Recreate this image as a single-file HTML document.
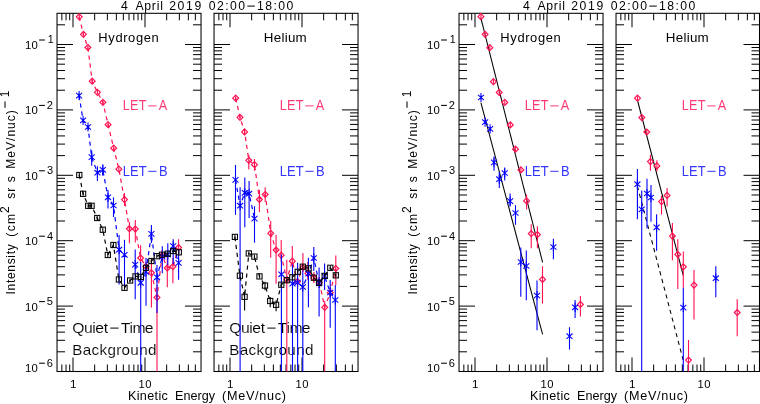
<!DOCTYPE html><html><head><meta charset="utf-8"><style>html,body{margin:0;padding:0;background:#fff;}svg{display:block;}</style></head><body><svg width="760" height="404" viewBox="0 0 760 404" style="will-change:transform"><rect x="0" y="0" width="760" height="404" fill="#fff"/>
<g font-family='"Liberation Sans", sans-serif' style="font-kerning:none">
<text transform="translate(121.02,9.50) scale(1.0,1)" font-size="12.21" letter-spacing="0.000" fill="#000">4</text>
<text transform="translate(135.38,9.50) scale(1.0,1)" font-size="12.21" letter-spacing="0.779" fill="#000">April</text>
<text transform="translate(169.19,9.50) scale(1.0,1)" font-size="12.21" letter-spacing="1.644" fill="#000">2019</text>
<text transform="translate(208.72,9.50) scale(1.0,1)" font-size="12.21" letter-spacing="1.475" fill="#000">02:00</text>
<line x1="247.30" y1="6.10" x2="254.80" y2="6.10" stroke="#000" stroke-width="1.0" />
<text transform="translate(256.97,9.50) scale(1.0,1)" font-size="12.21" letter-spacing="1.438" fill="#000">18:00</text>
<text transform="translate(127.96,400.40) scale(1.06,1)" font-size="11.92" letter-spacing="0.322" fill="#000">Kinetic</text>
<text transform="translate(175.06,400.40) scale(1.06,1)" font-size="11.92" letter-spacing="0.006" fill="#000">Energy</text>
<text transform="translate(222.12,400.40) scale(1.06,1)" font-size="11.92" letter-spacing="0.672" fill="#000">(MeV/nuc)</text>
<text transform="translate(15.10,294.41) rotate(-90) scale(1.0,1)" font-size="12.06" letter-spacing="0.651" fill="#000">Intensity</text>
<text transform="translate(15.10,236.65) rotate(-90) scale(1.0,1)" font-size="12.06" letter-spacing="1.272" fill="#000">(cm</text>
<text transform="translate(9.30,212.91) rotate(-90) scale(1.0,1)" font-size="12.06" letter-spacing="0.000" fill="#000">2</text>
<text transform="translate(15.10,198.64) rotate(-90) scale(1.0,1)" font-size="12.06" letter-spacing="0.887" fill="#000">sr</text>
<text transform="translate(15.10,182.34) rotate(-90) scale(1.0,1)" font-size="12.06" letter-spacing="0.000" fill="#000">s</text>
<text transform="translate(15.10,168.79) rotate(-90) scale(1.0,1)" font-size="12.06" letter-spacing="1.016" fill="#000">MeV/nuc)</text>
<line x1="5.00" y1="107.80" x2="5.00" y2="101.40" stroke="#000" stroke-width="1.05" />
<text transform="translate(8.90,97.21) rotate(-90) scale(1.0,1)" font-size="11.92" letter-spacing="0.000" fill="#000">1</text>
<text transform="translate(25.04,48.90) scale(1.0,1)" font-size="11.34" letter-spacing="0.196" fill="#000">10</text>
<line x1="39.10" y1="40.00" x2="44.90" y2="40.00" stroke="#000" stroke-width="1.05" />
<text transform="translate(47.79,43.40) scale(1.0,1)" font-size="10.61" letter-spacing="0.000" fill="#000">1</text>
<text transform="translate(25.04,114.30) scale(1.0,1)" font-size="11.34" letter-spacing="0.196" fill="#000">10</text>
<line x1="39.10" y1="105.40" x2="44.90" y2="105.40" stroke="#000" stroke-width="1.05" />
<text transform="translate(46.74,108.80) scale(1.0,1)" font-size="11.05" letter-spacing="0.000" fill="#000">2</text>
<text transform="translate(25.04,179.70) scale(1.0,1)" font-size="11.34" letter-spacing="0.196" fill="#000">10</text>
<line x1="39.10" y1="170.80" x2="44.90" y2="170.80" stroke="#000" stroke-width="1.05" />
<text transform="translate(46.88,174.20) scale(1.0,1)" font-size="11.05" letter-spacing="0.000" fill="#000">3</text>
<text transform="translate(25.04,245.10) scale(1.0,1)" font-size="11.34" letter-spacing="0.196" fill="#000">10</text>
<line x1="39.10" y1="236.20" x2="44.90" y2="236.20" stroke="#000" stroke-width="1.05" />
<text transform="translate(47.05,239.60) scale(1.0,1)" font-size="11.05" letter-spacing="0.000" fill="#000">4</text>
<text transform="translate(25.04,310.50) scale(1.0,1)" font-size="11.34" letter-spacing="0.196" fill="#000">10</text>
<line x1="39.10" y1="301.60" x2="44.90" y2="301.60" stroke="#000" stroke-width="1.05" />
<text transform="translate(46.86,305.00) scale(1.0,1)" font-size="11.05" letter-spacing="0.000" fill="#000">5</text>
<text transform="translate(25.04,372.10) scale(1.0,1)" font-size="11.34" letter-spacing="0.196" fill="#000">10</text>
<line x1="39.10" y1="363.20" x2="44.90" y2="363.20" stroke="#000" stroke-width="1.05" />
<text transform="translate(46.74,366.60) scale(1.0,1)" font-size="11.05" letter-spacing="0.000" fill="#000">6</text>
<text transform="translate(70.01,387.70) scale(1.0,1)" font-size="11.63" letter-spacing="0.000" fill="#000">1</text>
<text transform="translate(138.45,387.70) scale(1.0,1)" font-size="11.19" letter-spacing="0.641" fill="#000">10</text>
<text transform="translate(227.01,387.70) scale(1.0,1)" font-size="11.63" letter-spacing="0.000" fill="#000">1</text>
<text transform="translate(295.45,387.70) scale(1.0,1)" font-size="11.19" letter-spacing="0.641" fill="#000">10</text>
<text transform="translate(98.34,41.80) scale(1.06,1)" font-size="12.21" letter-spacing="0.578" fill="#000">Hydrogen</text>
<text transform="translate(263.80,42.00) scale(1.06,1)" font-size="12.65" letter-spacing="0.240" fill="#000">Helium</text>
<text transform="translate(122.86,110.20) scale(0.88,1)" font-size="14.39" letter-spacing="0.231" fill="#ff3a72">LET</text>
<line x1="148.30" y1="105.90" x2="156.50" y2="105.90" stroke="#ff3a72" stroke-width="1.0" />
<text transform="translate(158.78,110.20) scale(0.88,1)" font-size="14.39" letter-spacing="0.000" fill="#ff3a72">A</text>
<text transform="translate(122.84,175.80) scale(0.88,1)" font-size="14.68" letter-spacing="0.036" fill="#3434ff">LET</text>
<line x1="148.30" y1="171.30" x2="156.50" y2="171.30" stroke="#3434ff" stroke-width="1.0" />
<text transform="translate(159.04,175.80) scale(0.88,1)" font-size="14.68" letter-spacing="0.000" fill="#3434ff">B</text>
<text transform="translate(279.86,110.20) scale(0.88,1)" font-size="14.39" letter-spacing="0.231" fill="#ff3a72">LET</text>
<line x1="305.30" y1="105.90" x2="313.50" y2="105.90" stroke="#ff3a72" stroke-width="1.0" />
<text transform="translate(315.78,110.20) scale(0.88,1)" font-size="14.39" letter-spacing="0.000" fill="#ff3a72">A</text>
<text transform="translate(279.84,175.80) scale(0.88,1)" font-size="14.68" letter-spacing="0.036" fill="#3434ff">LET</text>
<line x1="305.30" y1="171.30" x2="313.50" y2="171.30" stroke="#3434ff" stroke-width="1.0" />
<text transform="translate(316.04,175.80) scale(0.88,1)" font-size="14.68" letter-spacing="0.000" fill="#3434ff">B</text>
<text transform="translate(523.02,9.50) scale(1.0,1)" font-size="12.21" letter-spacing="0.000" fill="#000">4</text>
<text transform="translate(537.38,9.50) scale(1.0,1)" font-size="12.21" letter-spacing="0.779" fill="#000">April</text>
<text transform="translate(571.19,9.50) scale(1.0,1)" font-size="12.21" letter-spacing="1.644" fill="#000">2019</text>
<text transform="translate(610.72,9.50) scale(1.0,1)" font-size="12.21" letter-spacing="1.475" fill="#000">02:00</text>
<line x1="649.30" y1="6.10" x2="656.80" y2="6.10" stroke="#000" stroke-width="1.0" />
<text transform="translate(658.97,9.50) scale(1.0,1)" font-size="12.21" letter-spacing="1.438" fill="#000">18:00</text>
<text transform="translate(529.96,400.40) scale(1.06,1)" font-size="11.92" letter-spacing="0.322" fill="#000">Kinetic</text>
<text transform="translate(577.06,400.40) scale(1.06,1)" font-size="11.92" letter-spacing="0.006" fill="#000">Energy</text>
<text transform="translate(624.12,400.40) scale(1.06,1)" font-size="11.92" letter-spacing="0.672" fill="#000">(MeV/nuc)</text>
<text transform="translate(417.10,294.41) rotate(-90) scale(1.0,1)" font-size="12.06" letter-spacing="0.651" fill="#000">Intensity</text>
<text transform="translate(417.10,236.65) rotate(-90) scale(1.0,1)" font-size="12.06" letter-spacing="1.272" fill="#000">(cm</text>
<text transform="translate(411.30,212.91) rotate(-90) scale(1.0,1)" font-size="12.06" letter-spacing="0.000" fill="#000">2</text>
<text transform="translate(417.10,198.64) rotate(-90) scale(1.0,1)" font-size="12.06" letter-spacing="0.887" fill="#000">sr</text>
<text transform="translate(417.10,182.34) rotate(-90) scale(1.0,1)" font-size="12.06" letter-spacing="0.000" fill="#000">s</text>
<text transform="translate(417.10,168.79) rotate(-90) scale(1.0,1)" font-size="12.06" letter-spacing="1.016" fill="#000">MeV/nuc)</text>
<line x1="407.00" y1="107.80" x2="407.00" y2="101.40" stroke="#000" stroke-width="1.05" />
<text transform="translate(410.90,97.21) rotate(-90) scale(1.0,1)" font-size="11.92" letter-spacing="0.000" fill="#000">1</text>
<text transform="translate(427.04,48.90) scale(1.0,1)" font-size="11.34" letter-spacing="0.196" fill="#000">10</text>
<line x1="441.10" y1="40.00" x2="446.90" y2="40.00" stroke="#000" stroke-width="1.05" />
<text transform="translate(449.79,43.40) scale(1.0,1)" font-size="10.61" letter-spacing="0.000" fill="#000">1</text>
<text transform="translate(427.04,114.30) scale(1.0,1)" font-size="11.34" letter-spacing="0.196" fill="#000">10</text>
<line x1="441.10" y1="105.40" x2="446.90" y2="105.40" stroke="#000" stroke-width="1.05" />
<text transform="translate(448.74,108.80) scale(1.0,1)" font-size="11.05" letter-spacing="0.000" fill="#000">2</text>
<text transform="translate(427.04,179.70) scale(1.0,1)" font-size="11.34" letter-spacing="0.196" fill="#000">10</text>
<line x1="441.10" y1="170.80" x2="446.90" y2="170.80" stroke="#000" stroke-width="1.05" />
<text transform="translate(448.88,174.20) scale(1.0,1)" font-size="11.05" letter-spacing="0.000" fill="#000">3</text>
<text transform="translate(427.04,245.10) scale(1.0,1)" font-size="11.34" letter-spacing="0.196" fill="#000">10</text>
<line x1="441.10" y1="236.20" x2="446.90" y2="236.20" stroke="#000" stroke-width="1.05" />
<text transform="translate(449.05,239.60) scale(1.0,1)" font-size="11.05" letter-spacing="0.000" fill="#000">4</text>
<text transform="translate(427.04,310.50) scale(1.0,1)" font-size="11.34" letter-spacing="0.196" fill="#000">10</text>
<line x1="441.10" y1="301.60" x2="446.90" y2="301.60" stroke="#000" stroke-width="1.05" />
<text transform="translate(448.86,305.00) scale(1.0,1)" font-size="11.05" letter-spacing="0.000" fill="#000">5</text>
<text transform="translate(427.04,372.10) scale(1.0,1)" font-size="11.34" letter-spacing="0.196" fill="#000">10</text>
<line x1="441.10" y1="363.20" x2="446.90" y2="363.20" stroke="#000" stroke-width="1.05" />
<text transform="translate(448.74,366.60) scale(1.0,1)" font-size="11.05" letter-spacing="0.000" fill="#000">6</text>
<text transform="translate(472.01,387.70) scale(1.0,1)" font-size="11.63" letter-spacing="0.000" fill="#000">1</text>
<text transform="translate(540.45,387.70) scale(1.0,1)" font-size="11.19" letter-spacing="0.641" fill="#000">10</text>
<text transform="translate(629.01,387.70) scale(1.0,1)" font-size="11.63" letter-spacing="0.000" fill="#000">1</text>
<text transform="translate(697.45,387.70) scale(1.0,1)" font-size="11.19" letter-spacing="0.641" fill="#000">10</text>
<text transform="translate(500.34,41.80) scale(1.06,1)" font-size="12.21" letter-spacing="0.578" fill="#000">Hydrogen</text>
<text transform="translate(665.80,42.00) scale(1.06,1)" font-size="12.65" letter-spacing="0.240" fill="#000">Helium</text>
<text transform="translate(524.86,110.20) scale(0.88,1)" font-size="14.39" letter-spacing="0.231" fill="#ff3a72">LET</text>
<line x1="550.30" y1="105.90" x2="558.50" y2="105.90" stroke="#ff3a72" stroke-width="1.0" />
<text transform="translate(560.78,110.20) scale(0.88,1)" font-size="14.39" letter-spacing="0.000" fill="#ff3a72">A</text>
<text transform="translate(524.84,175.80) scale(0.88,1)" font-size="14.68" letter-spacing="0.036" fill="#3434ff">LET</text>
<line x1="550.30" y1="171.30" x2="558.50" y2="171.30" stroke="#3434ff" stroke-width="1.0" />
<text transform="translate(561.04,175.80) scale(0.88,1)" font-size="14.68" letter-spacing="0.000" fill="#3434ff">B</text>
<text transform="translate(681.86,110.20) scale(0.88,1)" font-size="14.39" letter-spacing="0.231" fill="#ff3a72">LET</text>
<line x1="707.30" y1="105.90" x2="715.50" y2="105.90" stroke="#ff3a72" stroke-width="1.0" />
<text transform="translate(717.78,110.20) scale(0.88,1)" font-size="14.39" letter-spacing="0.000" fill="#ff3a72">A</text>
<text transform="translate(681.84,175.80) scale(0.88,1)" font-size="14.68" letter-spacing="0.036" fill="#3434ff">LET</text>
<line x1="707.30" y1="171.30" x2="715.50" y2="171.30" stroke="#3434ff" stroke-width="1.0" />
<text transform="translate(718.04,175.80) scale(0.88,1)" font-size="14.68" letter-spacing="0.000" fill="#3434ff">B</text>
<text transform="translate(72.26,332.80) scale(1.06,1)" font-size="14.83" letter-spacing="-0.425" fill="#000" stroke="#fff" stroke-width="0.12">Quiet</text>
<line x1="110.30" y1="328.10" x2="118.60" y2="328.10" stroke="#000" stroke-width="1.0" />
<text transform="translate(120.65,332.80) scale(1.06,1)" font-size="14.83" letter-spacing="-0.620" fill="#000" stroke="#fff" stroke-width="0.12">Time</text>
<text transform="translate(72.35,354.50) scale(1.06,1)" font-size="14.39" letter-spacing="0.286" fill="#000" stroke="#fff" stroke-width="0.12">Background</text>
<text transform="translate(229.26,332.80) scale(1.06,1)" font-size="14.83" letter-spacing="-0.425" fill="#000" stroke="#fff" stroke-width="0.12">Quiet</text>
<line x1="267.30" y1="328.10" x2="275.60" y2="328.10" stroke="#000" stroke-width="1.0" />
<text transform="translate(277.65,332.80) scale(1.06,1)" font-size="14.83" letter-spacing="-0.620" fill="#000" stroke="#fff" stroke-width="0.12">Time</text>
<text transform="translate(229.35,354.50) scale(1.06,1)" font-size="14.39" letter-spacing="0.286" fill="#000" stroke="#fff" stroke-width="0.12">Background</text>
<rect x="57.03" y="13.30" width="144.00" height="358.20" fill="none" stroke="#000" stroke-width="1.05"/>
<line x1="61.85" y1="371.50" x2="61.85" y2="364.50" stroke="#000" stroke-width="1.0" />
<line x1="61.85" y1="13.30" x2="61.85" y2="20.30" stroke="#000" stroke-width="1.0" />
<line x1="66.02" y1="371.50" x2="66.02" y2="364.50" stroke="#000" stroke-width="1.0" />
<line x1="66.02" y1="13.30" x2="66.02" y2="20.30" stroke="#000" stroke-width="1.0" />
<line x1="69.71" y1="371.50" x2="69.71" y2="364.50" stroke="#000" stroke-width="1.0" />
<line x1="69.71" y1="13.30" x2="69.71" y2="20.30" stroke="#000" stroke-width="1.0" />
<line x1="73.00" y1="371.50" x2="73.00" y2="357.50" stroke="#000" stroke-width="1.0" />
<line x1="73.00" y1="13.30" x2="73.00" y2="27.30" stroke="#000" stroke-width="1.0" />
<line x1="94.67" y1="371.50" x2="94.67" y2="364.50" stroke="#000" stroke-width="1.0" />
<line x1="94.67" y1="13.30" x2="94.67" y2="20.30" stroke="#000" stroke-width="1.0" />
<line x1="107.35" y1="371.50" x2="107.35" y2="364.50" stroke="#000" stroke-width="1.0" />
<line x1="107.35" y1="13.30" x2="107.35" y2="20.30" stroke="#000" stroke-width="1.0" />
<line x1="116.35" y1="371.50" x2="116.35" y2="364.50" stroke="#000" stroke-width="1.0" />
<line x1="116.35" y1="13.30" x2="116.35" y2="20.30" stroke="#000" stroke-width="1.0" />
<line x1="123.33" y1="371.50" x2="123.33" y2="364.50" stroke="#000" stroke-width="1.0" />
<line x1="123.33" y1="13.30" x2="123.33" y2="20.30" stroke="#000" stroke-width="1.0" />
<line x1="129.03" y1="371.50" x2="129.03" y2="364.50" stroke="#000" stroke-width="1.0" />
<line x1="129.03" y1="13.30" x2="129.03" y2="20.30" stroke="#000" stroke-width="1.0" />
<line x1="133.85" y1="371.50" x2="133.85" y2="364.50" stroke="#000" stroke-width="1.0" />
<line x1="133.85" y1="13.30" x2="133.85" y2="20.30" stroke="#000" stroke-width="1.0" />
<line x1="138.02" y1="371.50" x2="138.02" y2="364.50" stroke="#000" stroke-width="1.0" />
<line x1="138.02" y1="13.30" x2="138.02" y2="20.30" stroke="#000" stroke-width="1.0" />
<line x1="141.71" y1="371.50" x2="141.71" y2="364.50" stroke="#000" stroke-width="1.0" />
<line x1="141.71" y1="13.30" x2="141.71" y2="20.30" stroke="#000" stroke-width="1.0" />
<line x1="145.00" y1="371.50" x2="145.00" y2="357.50" stroke="#000" stroke-width="1.0" />
<line x1="145.00" y1="13.30" x2="145.00" y2="27.30" stroke="#000" stroke-width="1.0" />
<line x1="166.67" y1="371.50" x2="166.67" y2="364.50" stroke="#000" stroke-width="1.0" />
<line x1="166.67" y1="13.30" x2="166.67" y2="20.30" stroke="#000" stroke-width="1.0" />
<line x1="179.35" y1="371.50" x2="179.35" y2="364.50" stroke="#000" stroke-width="1.0" />
<line x1="179.35" y1="13.30" x2="179.35" y2="20.30" stroke="#000" stroke-width="1.0" />
<line x1="188.35" y1="371.50" x2="188.35" y2="364.50" stroke="#000" stroke-width="1.0" />
<line x1="188.35" y1="13.30" x2="188.35" y2="20.30" stroke="#000" stroke-width="1.0" />
<line x1="195.33" y1="371.50" x2="195.33" y2="364.50" stroke="#000" stroke-width="1.0" />
<line x1="195.33" y1="13.30" x2="195.33" y2="20.30" stroke="#000" stroke-width="1.0" />
<line x1="57.03" y1="351.81" x2="65.03" y2="351.81" stroke="#000" stroke-width="1.0" />
<line x1="201.03" y1="351.81" x2="193.03" y2="351.81" stroke="#000" stroke-width="1.0" />
<line x1="57.03" y1="340.30" x2="65.03" y2="340.30" stroke="#000" stroke-width="1.0" />
<line x1="201.03" y1="340.30" x2="193.03" y2="340.30" stroke="#000" stroke-width="1.0" />
<line x1="57.03" y1="332.13" x2="65.03" y2="332.13" stroke="#000" stroke-width="1.0" />
<line x1="201.03" y1="332.13" x2="193.03" y2="332.13" stroke="#000" stroke-width="1.0" />
<line x1="57.03" y1="325.79" x2="65.03" y2="325.79" stroke="#000" stroke-width="1.0" />
<line x1="201.03" y1="325.79" x2="193.03" y2="325.79" stroke="#000" stroke-width="1.0" />
<line x1="57.03" y1="320.61" x2="65.03" y2="320.61" stroke="#000" stroke-width="1.0" />
<line x1="201.03" y1="320.61" x2="193.03" y2="320.61" stroke="#000" stroke-width="1.0" />
<line x1="57.03" y1="316.23" x2="65.03" y2="316.23" stroke="#000" stroke-width="1.0" />
<line x1="201.03" y1="316.23" x2="193.03" y2="316.23" stroke="#000" stroke-width="1.0" />
<line x1="57.03" y1="312.44" x2="65.03" y2="312.44" stroke="#000" stroke-width="1.0" />
<line x1="201.03" y1="312.44" x2="193.03" y2="312.44" stroke="#000" stroke-width="1.0" />
<line x1="57.03" y1="309.09" x2="65.03" y2="309.09" stroke="#000" stroke-width="1.0" />
<line x1="201.03" y1="309.09" x2="193.03" y2="309.09" stroke="#000" stroke-width="1.0" />
<line x1="57.03" y1="306.10" x2="73.03" y2="306.10" stroke="#000" stroke-width="1.0" />
<line x1="201.03" y1="306.10" x2="185.03" y2="306.10" stroke="#000" stroke-width="1.0" />
<line x1="57.03" y1="286.41" x2="65.03" y2="286.41" stroke="#000" stroke-width="1.0" />
<line x1="201.03" y1="286.41" x2="193.03" y2="286.41" stroke="#000" stroke-width="1.0" />
<line x1="57.03" y1="274.90" x2="65.03" y2="274.90" stroke="#000" stroke-width="1.0" />
<line x1="201.03" y1="274.90" x2="193.03" y2="274.90" stroke="#000" stroke-width="1.0" />
<line x1="57.03" y1="266.73" x2="65.03" y2="266.73" stroke="#000" stroke-width="1.0" />
<line x1="201.03" y1="266.73" x2="193.03" y2="266.73" stroke="#000" stroke-width="1.0" />
<line x1="57.03" y1="260.39" x2="65.03" y2="260.39" stroke="#000" stroke-width="1.0" />
<line x1="201.03" y1="260.39" x2="193.03" y2="260.39" stroke="#000" stroke-width="1.0" />
<line x1="57.03" y1="255.21" x2="65.03" y2="255.21" stroke="#000" stroke-width="1.0" />
<line x1="201.03" y1="255.21" x2="193.03" y2="255.21" stroke="#000" stroke-width="1.0" />
<line x1="57.03" y1="250.83" x2="65.03" y2="250.83" stroke="#000" stroke-width="1.0" />
<line x1="201.03" y1="250.83" x2="193.03" y2="250.83" stroke="#000" stroke-width="1.0" />
<line x1="57.03" y1="247.04" x2="65.03" y2="247.04" stroke="#000" stroke-width="1.0" />
<line x1="201.03" y1="247.04" x2="193.03" y2="247.04" stroke="#000" stroke-width="1.0" />
<line x1="57.03" y1="243.69" x2="65.03" y2="243.69" stroke="#000" stroke-width="1.0" />
<line x1="201.03" y1="243.69" x2="193.03" y2="243.69" stroke="#000" stroke-width="1.0" />
<line x1="57.03" y1="240.70" x2="73.03" y2="240.70" stroke="#000" stroke-width="1.0" />
<line x1="201.03" y1="240.70" x2="185.03" y2="240.70" stroke="#000" stroke-width="1.0" />
<line x1="57.03" y1="221.01" x2="65.03" y2="221.01" stroke="#000" stroke-width="1.0" />
<line x1="201.03" y1="221.01" x2="193.03" y2="221.01" stroke="#000" stroke-width="1.0" />
<line x1="57.03" y1="209.50" x2="65.03" y2="209.50" stroke="#000" stroke-width="1.0" />
<line x1="201.03" y1="209.50" x2="193.03" y2="209.50" stroke="#000" stroke-width="1.0" />
<line x1="57.03" y1="201.33" x2="65.03" y2="201.33" stroke="#000" stroke-width="1.0" />
<line x1="201.03" y1="201.33" x2="193.03" y2="201.33" stroke="#000" stroke-width="1.0" />
<line x1="57.03" y1="194.99" x2="65.03" y2="194.99" stroke="#000" stroke-width="1.0" />
<line x1="201.03" y1="194.99" x2="193.03" y2="194.99" stroke="#000" stroke-width="1.0" />
<line x1="57.03" y1="189.81" x2="65.03" y2="189.81" stroke="#000" stroke-width="1.0" />
<line x1="201.03" y1="189.81" x2="193.03" y2="189.81" stroke="#000" stroke-width="1.0" />
<line x1="57.03" y1="185.43" x2="65.03" y2="185.43" stroke="#000" stroke-width="1.0" />
<line x1="201.03" y1="185.43" x2="193.03" y2="185.43" stroke="#000" stroke-width="1.0" />
<line x1="57.03" y1="181.64" x2="65.03" y2="181.64" stroke="#000" stroke-width="1.0" />
<line x1="201.03" y1="181.64" x2="193.03" y2="181.64" stroke="#000" stroke-width="1.0" />
<line x1="57.03" y1="178.29" x2="65.03" y2="178.29" stroke="#000" stroke-width="1.0" />
<line x1="201.03" y1="178.29" x2="193.03" y2="178.29" stroke="#000" stroke-width="1.0" />
<line x1="57.03" y1="175.30" x2="73.03" y2="175.30" stroke="#000" stroke-width="1.0" />
<line x1="201.03" y1="175.30" x2="185.03" y2="175.30" stroke="#000" stroke-width="1.0" />
<line x1="57.03" y1="155.61" x2="65.03" y2="155.61" stroke="#000" stroke-width="1.0" />
<line x1="201.03" y1="155.61" x2="193.03" y2="155.61" stroke="#000" stroke-width="1.0" />
<line x1="57.03" y1="144.10" x2="65.03" y2="144.10" stroke="#000" stroke-width="1.0" />
<line x1="201.03" y1="144.10" x2="193.03" y2="144.10" stroke="#000" stroke-width="1.0" />
<line x1="57.03" y1="135.93" x2="65.03" y2="135.93" stroke="#000" stroke-width="1.0" />
<line x1="201.03" y1="135.93" x2="193.03" y2="135.93" stroke="#000" stroke-width="1.0" />
<line x1="57.03" y1="129.59" x2="65.03" y2="129.59" stroke="#000" stroke-width="1.0" />
<line x1="201.03" y1="129.59" x2="193.03" y2="129.59" stroke="#000" stroke-width="1.0" />
<line x1="57.03" y1="124.41" x2="65.03" y2="124.41" stroke="#000" stroke-width="1.0" />
<line x1="201.03" y1="124.41" x2="193.03" y2="124.41" stroke="#000" stroke-width="1.0" />
<line x1="57.03" y1="120.03" x2="65.03" y2="120.03" stroke="#000" stroke-width="1.0" />
<line x1="201.03" y1="120.03" x2="193.03" y2="120.03" stroke="#000" stroke-width="1.0" />
<line x1="57.03" y1="116.24" x2="65.03" y2="116.24" stroke="#000" stroke-width="1.0" />
<line x1="201.03" y1="116.24" x2="193.03" y2="116.24" stroke="#000" stroke-width="1.0" />
<line x1="57.03" y1="112.89" x2="65.03" y2="112.89" stroke="#000" stroke-width="1.0" />
<line x1="201.03" y1="112.89" x2="193.03" y2="112.89" stroke="#000" stroke-width="1.0" />
<line x1="57.03" y1="109.90" x2="73.03" y2="109.90" stroke="#000" stroke-width="1.0" />
<line x1="201.03" y1="109.90" x2="185.03" y2="109.90" stroke="#000" stroke-width="1.0" />
<line x1="57.03" y1="90.21" x2="65.03" y2="90.21" stroke="#000" stroke-width="1.0" />
<line x1="201.03" y1="90.21" x2="193.03" y2="90.21" stroke="#000" stroke-width="1.0" />
<line x1="57.03" y1="78.70" x2="65.03" y2="78.70" stroke="#000" stroke-width="1.0" />
<line x1="201.03" y1="78.70" x2="193.03" y2="78.70" stroke="#000" stroke-width="1.0" />
<line x1="57.03" y1="70.53" x2="65.03" y2="70.53" stroke="#000" stroke-width="1.0" />
<line x1="201.03" y1="70.53" x2="193.03" y2="70.53" stroke="#000" stroke-width="1.0" />
<line x1="57.03" y1="64.19" x2="65.03" y2="64.19" stroke="#000" stroke-width="1.0" />
<line x1="201.03" y1="64.19" x2="193.03" y2="64.19" stroke="#000" stroke-width="1.0" />
<line x1="57.03" y1="59.01" x2="65.03" y2="59.01" stroke="#000" stroke-width="1.0" />
<line x1="201.03" y1="59.01" x2="193.03" y2="59.01" stroke="#000" stroke-width="1.0" />
<line x1="57.03" y1="54.63" x2="65.03" y2="54.63" stroke="#000" stroke-width="1.0" />
<line x1="201.03" y1="54.63" x2="193.03" y2="54.63" stroke="#000" stroke-width="1.0" />
<line x1="57.03" y1="50.84" x2="65.03" y2="50.84" stroke="#000" stroke-width="1.0" />
<line x1="201.03" y1="50.84" x2="193.03" y2="50.84" stroke="#000" stroke-width="1.0" />
<line x1="57.03" y1="47.49" x2="65.03" y2="47.49" stroke="#000" stroke-width="1.0" />
<line x1="201.03" y1="47.49" x2="193.03" y2="47.49" stroke="#000" stroke-width="1.0" />
<line x1="57.03" y1="44.50" x2="73.03" y2="44.50" stroke="#000" stroke-width="1.0" />
<line x1="201.03" y1="44.50" x2="185.03" y2="44.50" stroke="#000" stroke-width="1.0" />
<line x1="57.03" y1="24.81" x2="65.03" y2="24.81" stroke="#000" stroke-width="1.0" />
<line x1="201.03" y1="24.81" x2="193.03" y2="24.81" stroke="#000" stroke-width="1.0" />
<rect x="214.03" y="13.30" width="144.00" height="358.20" fill="none" stroke="#000" stroke-width="1.05"/>
<line x1="218.85" y1="371.50" x2="218.85" y2="364.50" stroke="#000" stroke-width="1.0" />
<line x1="218.85" y1="13.30" x2="218.85" y2="20.30" stroke="#000" stroke-width="1.0" />
<line x1="223.02" y1="371.50" x2="223.02" y2="364.50" stroke="#000" stroke-width="1.0" />
<line x1="223.02" y1="13.30" x2="223.02" y2="20.30" stroke="#000" stroke-width="1.0" />
<line x1="226.71" y1="371.50" x2="226.71" y2="364.50" stroke="#000" stroke-width="1.0" />
<line x1="226.71" y1="13.30" x2="226.71" y2="20.30" stroke="#000" stroke-width="1.0" />
<line x1="230.00" y1="371.50" x2="230.00" y2="357.50" stroke="#000" stroke-width="1.0" />
<line x1="230.00" y1="13.30" x2="230.00" y2="27.30" stroke="#000" stroke-width="1.0" />
<line x1="251.67" y1="371.50" x2="251.67" y2="364.50" stroke="#000" stroke-width="1.0" />
<line x1="251.67" y1="13.30" x2="251.67" y2="20.30" stroke="#000" stroke-width="1.0" />
<line x1="264.35" y1="371.50" x2="264.35" y2="364.50" stroke="#000" stroke-width="1.0" />
<line x1="264.35" y1="13.30" x2="264.35" y2="20.30" stroke="#000" stroke-width="1.0" />
<line x1="273.35" y1="371.50" x2="273.35" y2="364.50" stroke="#000" stroke-width="1.0" />
<line x1="273.35" y1="13.30" x2="273.35" y2="20.30" stroke="#000" stroke-width="1.0" />
<line x1="280.33" y1="371.50" x2="280.33" y2="364.50" stroke="#000" stroke-width="1.0" />
<line x1="280.33" y1="13.30" x2="280.33" y2="20.30" stroke="#000" stroke-width="1.0" />
<line x1="286.03" y1="371.50" x2="286.03" y2="364.50" stroke="#000" stroke-width="1.0" />
<line x1="286.03" y1="13.30" x2="286.03" y2="20.30" stroke="#000" stroke-width="1.0" />
<line x1="290.85" y1="371.50" x2="290.85" y2="364.50" stroke="#000" stroke-width="1.0" />
<line x1="290.85" y1="13.30" x2="290.85" y2="20.30" stroke="#000" stroke-width="1.0" />
<line x1="295.02" y1="371.50" x2="295.02" y2="364.50" stroke="#000" stroke-width="1.0" />
<line x1="295.02" y1="13.30" x2="295.02" y2="20.30" stroke="#000" stroke-width="1.0" />
<line x1="298.71" y1="371.50" x2="298.71" y2="364.50" stroke="#000" stroke-width="1.0" />
<line x1="298.71" y1="13.30" x2="298.71" y2="20.30" stroke="#000" stroke-width="1.0" />
<line x1="302.00" y1="371.50" x2="302.00" y2="357.50" stroke="#000" stroke-width="1.0" />
<line x1="302.00" y1="13.30" x2="302.00" y2="27.30" stroke="#000" stroke-width="1.0" />
<line x1="323.67" y1="371.50" x2="323.67" y2="364.50" stroke="#000" stroke-width="1.0" />
<line x1="323.67" y1="13.30" x2="323.67" y2="20.30" stroke="#000" stroke-width="1.0" />
<line x1="336.35" y1="371.50" x2="336.35" y2="364.50" stroke="#000" stroke-width="1.0" />
<line x1="336.35" y1="13.30" x2="336.35" y2="20.30" stroke="#000" stroke-width="1.0" />
<line x1="345.35" y1="371.50" x2="345.35" y2="364.50" stroke="#000" stroke-width="1.0" />
<line x1="345.35" y1="13.30" x2="345.35" y2="20.30" stroke="#000" stroke-width="1.0" />
<line x1="352.33" y1="371.50" x2="352.33" y2="364.50" stroke="#000" stroke-width="1.0" />
<line x1="352.33" y1="13.30" x2="352.33" y2="20.30" stroke="#000" stroke-width="1.0" />
<line x1="214.03" y1="351.81" x2="222.03" y2="351.81" stroke="#000" stroke-width="1.0" />
<line x1="358.03" y1="351.81" x2="350.03" y2="351.81" stroke="#000" stroke-width="1.0" />
<line x1="214.03" y1="340.30" x2="222.03" y2="340.30" stroke="#000" stroke-width="1.0" />
<line x1="358.03" y1="340.30" x2="350.03" y2="340.30" stroke="#000" stroke-width="1.0" />
<line x1="214.03" y1="332.13" x2="222.03" y2="332.13" stroke="#000" stroke-width="1.0" />
<line x1="358.03" y1="332.13" x2="350.03" y2="332.13" stroke="#000" stroke-width="1.0" />
<line x1="214.03" y1="325.79" x2="222.03" y2="325.79" stroke="#000" stroke-width="1.0" />
<line x1="358.03" y1="325.79" x2="350.03" y2="325.79" stroke="#000" stroke-width="1.0" />
<line x1="214.03" y1="320.61" x2="222.03" y2="320.61" stroke="#000" stroke-width="1.0" />
<line x1="358.03" y1="320.61" x2="350.03" y2="320.61" stroke="#000" stroke-width="1.0" />
<line x1="214.03" y1="316.23" x2="222.03" y2="316.23" stroke="#000" stroke-width="1.0" />
<line x1="358.03" y1="316.23" x2="350.03" y2="316.23" stroke="#000" stroke-width="1.0" />
<line x1="214.03" y1="312.44" x2="222.03" y2="312.44" stroke="#000" stroke-width="1.0" />
<line x1="358.03" y1="312.44" x2="350.03" y2="312.44" stroke="#000" stroke-width="1.0" />
<line x1="214.03" y1="309.09" x2="222.03" y2="309.09" stroke="#000" stroke-width="1.0" />
<line x1="358.03" y1="309.09" x2="350.03" y2="309.09" stroke="#000" stroke-width="1.0" />
<line x1="214.03" y1="306.10" x2="230.03" y2="306.10" stroke="#000" stroke-width="1.0" />
<line x1="358.03" y1="306.10" x2="342.03" y2="306.10" stroke="#000" stroke-width="1.0" />
<line x1="214.03" y1="286.41" x2="222.03" y2="286.41" stroke="#000" stroke-width="1.0" />
<line x1="358.03" y1="286.41" x2="350.03" y2="286.41" stroke="#000" stroke-width="1.0" />
<line x1="214.03" y1="274.90" x2="222.03" y2="274.90" stroke="#000" stroke-width="1.0" />
<line x1="358.03" y1="274.90" x2="350.03" y2="274.90" stroke="#000" stroke-width="1.0" />
<line x1="214.03" y1="266.73" x2="222.03" y2="266.73" stroke="#000" stroke-width="1.0" />
<line x1="358.03" y1="266.73" x2="350.03" y2="266.73" stroke="#000" stroke-width="1.0" />
<line x1="214.03" y1="260.39" x2="222.03" y2="260.39" stroke="#000" stroke-width="1.0" />
<line x1="358.03" y1="260.39" x2="350.03" y2="260.39" stroke="#000" stroke-width="1.0" />
<line x1="214.03" y1="255.21" x2="222.03" y2="255.21" stroke="#000" stroke-width="1.0" />
<line x1="358.03" y1="255.21" x2="350.03" y2="255.21" stroke="#000" stroke-width="1.0" />
<line x1="214.03" y1="250.83" x2="222.03" y2="250.83" stroke="#000" stroke-width="1.0" />
<line x1="358.03" y1="250.83" x2="350.03" y2="250.83" stroke="#000" stroke-width="1.0" />
<line x1="214.03" y1="247.04" x2="222.03" y2="247.04" stroke="#000" stroke-width="1.0" />
<line x1="358.03" y1="247.04" x2="350.03" y2="247.04" stroke="#000" stroke-width="1.0" />
<line x1="214.03" y1="243.69" x2="222.03" y2="243.69" stroke="#000" stroke-width="1.0" />
<line x1="358.03" y1="243.69" x2="350.03" y2="243.69" stroke="#000" stroke-width="1.0" />
<line x1="214.03" y1="240.70" x2="230.03" y2="240.70" stroke="#000" stroke-width="1.0" />
<line x1="358.03" y1="240.70" x2="342.03" y2="240.70" stroke="#000" stroke-width="1.0" />
<line x1="214.03" y1="221.01" x2="222.03" y2="221.01" stroke="#000" stroke-width="1.0" />
<line x1="358.03" y1="221.01" x2="350.03" y2="221.01" stroke="#000" stroke-width="1.0" />
<line x1="214.03" y1="209.50" x2="222.03" y2="209.50" stroke="#000" stroke-width="1.0" />
<line x1="358.03" y1="209.50" x2="350.03" y2="209.50" stroke="#000" stroke-width="1.0" />
<line x1="214.03" y1="201.33" x2="222.03" y2="201.33" stroke="#000" stroke-width="1.0" />
<line x1="358.03" y1="201.33" x2="350.03" y2="201.33" stroke="#000" stroke-width="1.0" />
<line x1="214.03" y1="194.99" x2="222.03" y2="194.99" stroke="#000" stroke-width="1.0" />
<line x1="358.03" y1="194.99" x2="350.03" y2="194.99" stroke="#000" stroke-width="1.0" />
<line x1="214.03" y1="189.81" x2="222.03" y2="189.81" stroke="#000" stroke-width="1.0" />
<line x1="358.03" y1="189.81" x2="350.03" y2="189.81" stroke="#000" stroke-width="1.0" />
<line x1="214.03" y1="185.43" x2="222.03" y2="185.43" stroke="#000" stroke-width="1.0" />
<line x1="358.03" y1="185.43" x2="350.03" y2="185.43" stroke="#000" stroke-width="1.0" />
<line x1="214.03" y1="181.64" x2="222.03" y2="181.64" stroke="#000" stroke-width="1.0" />
<line x1="358.03" y1="181.64" x2="350.03" y2="181.64" stroke="#000" stroke-width="1.0" />
<line x1="214.03" y1="178.29" x2="222.03" y2="178.29" stroke="#000" stroke-width="1.0" />
<line x1="358.03" y1="178.29" x2="350.03" y2="178.29" stroke="#000" stroke-width="1.0" />
<line x1="214.03" y1="175.30" x2="230.03" y2="175.30" stroke="#000" stroke-width="1.0" />
<line x1="358.03" y1="175.30" x2="342.03" y2="175.30" stroke="#000" stroke-width="1.0" />
<line x1="214.03" y1="155.61" x2="222.03" y2="155.61" stroke="#000" stroke-width="1.0" />
<line x1="358.03" y1="155.61" x2="350.03" y2="155.61" stroke="#000" stroke-width="1.0" />
<line x1="214.03" y1="144.10" x2="222.03" y2="144.10" stroke="#000" stroke-width="1.0" />
<line x1="358.03" y1="144.10" x2="350.03" y2="144.10" stroke="#000" stroke-width="1.0" />
<line x1="214.03" y1="135.93" x2="222.03" y2="135.93" stroke="#000" stroke-width="1.0" />
<line x1="358.03" y1="135.93" x2="350.03" y2="135.93" stroke="#000" stroke-width="1.0" />
<line x1="214.03" y1="129.59" x2="222.03" y2="129.59" stroke="#000" stroke-width="1.0" />
<line x1="358.03" y1="129.59" x2="350.03" y2="129.59" stroke="#000" stroke-width="1.0" />
<line x1="214.03" y1="124.41" x2="222.03" y2="124.41" stroke="#000" stroke-width="1.0" />
<line x1="358.03" y1="124.41" x2="350.03" y2="124.41" stroke="#000" stroke-width="1.0" />
<line x1="214.03" y1="120.03" x2="222.03" y2="120.03" stroke="#000" stroke-width="1.0" />
<line x1="358.03" y1="120.03" x2="350.03" y2="120.03" stroke="#000" stroke-width="1.0" />
<line x1="214.03" y1="116.24" x2="222.03" y2="116.24" stroke="#000" stroke-width="1.0" />
<line x1="358.03" y1="116.24" x2="350.03" y2="116.24" stroke="#000" stroke-width="1.0" />
<line x1="214.03" y1="112.89" x2="222.03" y2="112.89" stroke="#000" stroke-width="1.0" />
<line x1="358.03" y1="112.89" x2="350.03" y2="112.89" stroke="#000" stroke-width="1.0" />
<line x1="214.03" y1="109.90" x2="230.03" y2="109.90" stroke="#000" stroke-width="1.0" />
<line x1="358.03" y1="109.90" x2="342.03" y2="109.90" stroke="#000" stroke-width="1.0" />
<line x1="214.03" y1="90.21" x2="222.03" y2="90.21" stroke="#000" stroke-width="1.0" />
<line x1="358.03" y1="90.21" x2="350.03" y2="90.21" stroke="#000" stroke-width="1.0" />
<line x1="214.03" y1="78.70" x2="222.03" y2="78.70" stroke="#000" stroke-width="1.0" />
<line x1="358.03" y1="78.70" x2="350.03" y2="78.70" stroke="#000" stroke-width="1.0" />
<line x1="214.03" y1="70.53" x2="222.03" y2="70.53" stroke="#000" stroke-width="1.0" />
<line x1="358.03" y1="70.53" x2="350.03" y2="70.53" stroke="#000" stroke-width="1.0" />
<line x1="214.03" y1="64.19" x2="222.03" y2="64.19" stroke="#000" stroke-width="1.0" />
<line x1="358.03" y1="64.19" x2="350.03" y2="64.19" stroke="#000" stroke-width="1.0" />
<line x1="214.03" y1="59.01" x2="222.03" y2="59.01" stroke="#000" stroke-width="1.0" />
<line x1="358.03" y1="59.01" x2="350.03" y2="59.01" stroke="#000" stroke-width="1.0" />
<line x1="214.03" y1="54.63" x2="222.03" y2="54.63" stroke="#000" stroke-width="1.0" />
<line x1="358.03" y1="54.63" x2="350.03" y2="54.63" stroke="#000" stroke-width="1.0" />
<line x1="214.03" y1="50.84" x2="222.03" y2="50.84" stroke="#000" stroke-width="1.0" />
<line x1="358.03" y1="50.84" x2="350.03" y2="50.84" stroke="#000" stroke-width="1.0" />
<line x1="214.03" y1="47.49" x2="222.03" y2="47.49" stroke="#000" stroke-width="1.0" />
<line x1="358.03" y1="47.49" x2="350.03" y2="47.49" stroke="#000" stroke-width="1.0" />
<line x1="214.03" y1="44.50" x2="230.03" y2="44.50" stroke="#000" stroke-width="1.0" />
<line x1="358.03" y1="44.50" x2="342.03" y2="44.50" stroke="#000" stroke-width="1.0" />
<line x1="214.03" y1="24.81" x2="222.03" y2="24.81" stroke="#000" stroke-width="1.0" />
<line x1="358.03" y1="24.81" x2="350.03" y2="24.81" stroke="#000" stroke-width="1.0" />
<rect x="459.03" y="13.30" width="144.00" height="358.20" fill="none" stroke="#000" stroke-width="1.05"/>
<line x1="463.85" y1="371.50" x2="463.85" y2="364.50" stroke="#000" stroke-width="1.0" />
<line x1="463.85" y1="13.30" x2="463.85" y2="20.30" stroke="#000" stroke-width="1.0" />
<line x1="468.02" y1="371.50" x2="468.02" y2="364.50" stroke="#000" stroke-width="1.0" />
<line x1="468.02" y1="13.30" x2="468.02" y2="20.30" stroke="#000" stroke-width="1.0" />
<line x1="471.71" y1="371.50" x2="471.71" y2="364.50" stroke="#000" stroke-width="1.0" />
<line x1="471.71" y1="13.30" x2="471.71" y2="20.30" stroke="#000" stroke-width="1.0" />
<line x1="475.00" y1="371.50" x2="475.00" y2="357.50" stroke="#000" stroke-width="1.0" />
<line x1="475.00" y1="13.30" x2="475.00" y2="27.30" stroke="#000" stroke-width="1.0" />
<line x1="496.67" y1="371.50" x2="496.67" y2="364.50" stroke="#000" stroke-width="1.0" />
<line x1="496.67" y1="13.30" x2="496.67" y2="20.30" stroke="#000" stroke-width="1.0" />
<line x1="509.35" y1="371.50" x2="509.35" y2="364.50" stroke="#000" stroke-width="1.0" />
<line x1="509.35" y1="13.30" x2="509.35" y2="20.30" stroke="#000" stroke-width="1.0" />
<line x1="518.35" y1="371.50" x2="518.35" y2="364.50" stroke="#000" stroke-width="1.0" />
<line x1="518.35" y1="13.30" x2="518.35" y2="20.30" stroke="#000" stroke-width="1.0" />
<line x1="525.33" y1="371.50" x2="525.33" y2="364.50" stroke="#000" stroke-width="1.0" />
<line x1="525.33" y1="13.30" x2="525.33" y2="20.30" stroke="#000" stroke-width="1.0" />
<line x1="531.03" y1="371.50" x2="531.03" y2="364.50" stroke="#000" stroke-width="1.0" />
<line x1="531.03" y1="13.30" x2="531.03" y2="20.30" stroke="#000" stroke-width="1.0" />
<line x1="535.85" y1="371.50" x2="535.85" y2="364.50" stroke="#000" stroke-width="1.0" />
<line x1="535.85" y1="13.30" x2="535.85" y2="20.30" stroke="#000" stroke-width="1.0" />
<line x1="540.02" y1="371.50" x2="540.02" y2="364.50" stroke="#000" stroke-width="1.0" />
<line x1="540.02" y1="13.30" x2="540.02" y2="20.30" stroke="#000" stroke-width="1.0" />
<line x1="543.71" y1="371.50" x2="543.71" y2="364.50" stroke="#000" stroke-width="1.0" />
<line x1="543.71" y1="13.30" x2="543.71" y2="20.30" stroke="#000" stroke-width="1.0" />
<line x1="547.00" y1="371.50" x2="547.00" y2="357.50" stroke="#000" stroke-width="1.0" />
<line x1="547.00" y1="13.30" x2="547.00" y2="27.30" stroke="#000" stroke-width="1.0" />
<line x1="568.67" y1="371.50" x2="568.67" y2="364.50" stroke="#000" stroke-width="1.0" />
<line x1="568.67" y1="13.30" x2="568.67" y2="20.30" stroke="#000" stroke-width="1.0" />
<line x1="581.35" y1="371.50" x2="581.35" y2="364.50" stroke="#000" stroke-width="1.0" />
<line x1="581.35" y1="13.30" x2="581.35" y2="20.30" stroke="#000" stroke-width="1.0" />
<line x1="590.35" y1="371.50" x2="590.35" y2="364.50" stroke="#000" stroke-width="1.0" />
<line x1="590.35" y1="13.30" x2="590.35" y2="20.30" stroke="#000" stroke-width="1.0" />
<line x1="597.33" y1="371.50" x2="597.33" y2="364.50" stroke="#000" stroke-width="1.0" />
<line x1="597.33" y1="13.30" x2="597.33" y2="20.30" stroke="#000" stroke-width="1.0" />
<line x1="459.03" y1="351.81" x2="467.03" y2="351.81" stroke="#000" stroke-width="1.0" />
<line x1="603.03" y1="351.81" x2="595.03" y2="351.81" stroke="#000" stroke-width="1.0" />
<line x1="459.03" y1="340.30" x2="467.03" y2="340.30" stroke="#000" stroke-width="1.0" />
<line x1="603.03" y1="340.30" x2="595.03" y2="340.30" stroke="#000" stroke-width="1.0" />
<line x1="459.03" y1="332.13" x2="467.03" y2="332.13" stroke="#000" stroke-width="1.0" />
<line x1="603.03" y1="332.13" x2="595.03" y2="332.13" stroke="#000" stroke-width="1.0" />
<line x1="459.03" y1="325.79" x2="467.03" y2="325.79" stroke="#000" stroke-width="1.0" />
<line x1="603.03" y1="325.79" x2="595.03" y2="325.79" stroke="#000" stroke-width="1.0" />
<line x1="459.03" y1="320.61" x2="467.03" y2="320.61" stroke="#000" stroke-width="1.0" />
<line x1="603.03" y1="320.61" x2="595.03" y2="320.61" stroke="#000" stroke-width="1.0" />
<line x1="459.03" y1="316.23" x2="467.03" y2="316.23" stroke="#000" stroke-width="1.0" />
<line x1="603.03" y1="316.23" x2="595.03" y2="316.23" stroke="#000" stroke-width="1.0" />
<line x1="459.03" y1="312.44" x2="467.03" y2="312.44" stroke="#000" stroke-width="1.0" />
<line x1="603.03" y1="312.44" x2="595.03" y2="312.44" stroke="#000" stroke-width="1.0" />
<line x1="459.03" y1="309.09" x2="467.03" y2="309.09" stroke="#000" stroke-width="1.0" />
<line x1="603.03" y1="309.09" x2="595.03" y2="309.09" stroke="#000" stroke-width="1.0" />
<line x1="459.03" y1="306.10" x2="475.03" y2="306.10" stroke="#000" stroke-width="1.0" />
<line x1="603.03" y1="306.10" x2="587.03" y2="306.10" stroke="#000" stroke-width="1.0" />
<line x1="459.03" y1="286.41" x2="467.03" y2="286.41" stroke="#000" stroke-width="1.0" />
<line x1="603.03" y1="286.41" x2="595.03" y2="286.41" stroke="#000" stroke-width="1.0" />
<line x1="459.03" y1="274.90" x2="467.03" y2="274.90" stroke="#000" stroke-width="1.0" />
<line x1="603.03" y1="274.90" x2="595.03" y2="274.90" stroke="#000" stroke-width="1.0" />
<line x1="459.03" y1="266.73" x2="467.03" y2="266.73" stroke="#000" stroke-width="1.0" />
<line x1="603.03" y1="266.73" x2="595.03" y2="266.73" stroke="#000" stroke-width="1.0" />
<line x1="459.03" y1="260.39" x2="467.03" y2="260.39" stroke="#000" stroke-width="1.0" />
<line x1="603.03" y1="260.39" x2="595.03" y2="260.39" stroke="#000" stroke-width="1.0" />
<line x1="459.03" y1="255.21" x2="467.03" y2="255.21" stroke="#000" stroke-width="1.0" />
<line x1="603.03" y1="255.21" x2="595.03" y2="255.21" stroke="#000" stroke-width="1.0" />
<line x1="459.03" y1="250.83" x2="467.03" y2="250.83" stroke="#000" stroke-width="1.0" />
<line x1="603.03" y1="250.83" x2="595.03" y2="250.83" stroke="#000" stroke-width="1.0" />
<line x1="459.03" y1="247.04" x2="467.03" y2="247.04" stroke="#000" stroke-width="1.0" />
<line x1="603.03" y1="247.04" x2="595.03" y2="247.04" stroke="#000" stroke-width="1.0" />
<line x1="459.03" y1="243.69" x2="467.03" y2="243.69" stroke="#000" stroke-width="1.0" />
<line x1="603.03" y1="243.69" x2="595.03" y2="243.69" stroke="#000" stroke-width="1.0" />
<line x1="459.03" y1="240.70" x2="475.03" y2="240.70" stroke="#000" stroke-width="1.0" />
<line x1="603.03" y1="240.70" x2="587.03" y2="240.70" stroke="#000" stroke-width="1.0" />
<line x1="459.03" y1="221.01" x2="467.03" y2="221.01" stroke="#000" stroke-width="1.0" />
<line x1="603.03" y1="221.01" x2="595.03" y2="221.01" stroke="#000" stroke-width="1.0" />
<line x1="459.03" y1="209.50" x2="467.03" y2="209.50" stroke="#000" stroke-width="1.0" />
<line x1="603.03" y1="209.50" x2="595.03" y2="209.50" stroke="#000" stroke-width="1.0" />
<line x1="459.03" y1="201.33" x2="467.03" y2="201.33" stroke="#000" stroke-width="1.0" />
<line x1="603.03" y1="201.33" x2="595.03" y2="201.33" stroke="#000" stroke-width="1.0" />
<line x1="459.03" y1="194.99" x2="467.03" y2="194.99" stroke="#000" stroke-width="1.0" />
<line x1="603.03" y1="194.99" x2="595.03" y2="194.99" stroke="#000" stroke-width="1.0" />
<line x1="459.03" y1="189.81" x2="467.03" y2="189.81" stroke="#000" stroke-width="1.0" />
<line x1="603.03" y1="189.81" x2="595.03" y2="189.81" stroke="#000" stroke-width="1.0" />
<line x1="459.03" y1="185.43" x2="467.03" y2="185.43" stroke="#000" stroke-width="1.0" />
<line x1="603.03" y1="185.43" x2="595.03" y2="185.43" stroke="#000" stroke-width="1.0" />
<line x1="459.03" y1="181.64" x2="467.03" y2="181.64" stroke="#000" stroke-width="1.0" />
<line x1="603.03" y1="181.64" x2="595.03" y2="181.64" stroke="#000" stroke-width="1.0" />
<line x1="459.03" y1="178.29" x2="467.03" y2="178.29" stroke="#000" stroke-width="1.0" />
<line x1="603.03" y1="178.29" x2="595.03" y2="178.29" stroke="#000" stroke-width="1.0" />
<line x1="459.03" y1="175.30" x2="475.03" y2="175.30" stroke="#000" stroke-width="1.0" />
<line x1="603.03" y1="175.30" x2="587.03" y2="175.30" stroke="#000" stroke-width="1.0" />
<line x1="459.03" y1="155.61" x2="467.03" y2="155.61" stroke="#000" stroke-width="1.0" />
<line x1="603.03" y1="155.61" x2="595.03" y2="155.61" stroke="#000" stroke-width="1.0" />
<line x1="459.03" y1="144.10" x2="467.03" y2="144.10" stroke="#000" stroke-width="1.0" />
<line x1="603.03" y1="144.10" x2="595.03" y2="144.10" stroke="#000" stroke-width="1.0" />
<line x1="459.03" y1="135.93" x2="467.03" y2="135.93" stroke="#000" stroke-width="1.0" />
<line x1="603.03" y1="135.93" x2="595.03" y2="135.93" stroke="#000" stroke-width="1.0" />
<line x1="459.03" y1="129.59" x2="467.03" y2="129.59" stroke="#000" stroke-width="1.0" />
<line x1="603.03" y1="129.59" x2="595.03" y2="129.59" stroke="#000" stroke-width="1.0" />
<line x1="459.03" y1="124.41" x2="467.03" y2="124.41" stroke="#000" stroke-width="1.0" />
<line x1="603.03" y1="124.41" x2="595.03" y2="124.41" stroke="#000" stroke-width="1.0" />
<line x1="459.03" y1="120.03" x2="467.03" y2="120.03" stroke="#000" stroke-width="1.0" />
<line x1="603.03" y1="120.03" x2="595.03" y2="120.03" stroke="#000" stroke-width="1.0" />
<line x1="459.03" y1="116.24" x2="467.03" y2="116.24" stroke="#000" stroke-width="1.0" />
<line x1="603.03" y1="116.24" x2="595.03" y2="116.24" stroke="#000" stroke-width="1.0" />
<line x1="459.03" y1="112.89" x2="467.03" y2="112.89" stroke="#000" stroke-width="1.0" />
<line x1="603.03" y1="112.89" x2="595.03" y2="112.89" stroke="#000" stroke-width="1.0" />
<line x1="459.03" y1="109.90" x2="475.03" y2="109.90" stroke="#000" stroke-width="1.0" />
<line x1="603.03" y1="109.90" x2="587.03" y2="109.90" stroke="#000" stroke-width="1.0" />
<line x1="459.03" y1="90.21" x2="467.03" y2="90.21" stroke="#000" stroke-width="1.0" />
<line x1="603.03" y1="90.21" x2="595.03" y2="90.21" stroke="#000" stroke-width="1.0" />
<line x1="459.03" y1="78.70" x2="467.03" y2="78.70" stroke="#000" stroke-width="1.0" />
<line x1="603.03" y1="78.70" x2="595.03" y2="78.70" stroke="#000" stroke-width="1.0" />
<line x1="459.03" y1="70.53" x2="467.03" y2="70.53" stroke="#000" stroke-width="1.0" />
<line x1="603.03" y1="70.53" x2="595.03" y2="70.53" stroke="#000" stroke-width="1.0" />
<line x1="459.03" y1="64.19" x2="467.03" y2="64.19" stroke="#000" stroke-width="1.0" />
<line x1="603.03" y1="64.19" x2="595.03" y2="64.19" stroke="#000" stroke-width="1.0" />
<line x1="459.03" y1="59.01" x2="467.03" y2="59.01" stroke="#000" stroke-width="1.0" />
<line x1="603.03" y1="59.01" x2="595.03" y2="59.01" stroke="#000" stroke-width="1.0" />
<line x1="459.03" y1="54.63" x2="467.03" y2="54.63" stroke="#000" stroke-width="1.0" />
<line x1="603.03" y1="54.63" x2="595.03" y2="54.63" stroke="#000" stroke-width="1.0" />
<line x1="459.03" y1="50.84" x2="467.03" y2="50.84" stroke="#000" stroke-width="1.0" />
<line x1="603.03" y1="50.84" x2="595.03" y2="50.84" stroke="#000" stroke-width="1.0" />
<line x1="459.03" y1="47.49" x2="467.03" y2="47.49" stroke="#000" stroke-width="1.0" />
<line x1="603.03" y1="47.49" x2="595.03" y2="47.49" stroke="#000" stroke-width="1.0" />
<line x1="459.03" y1="44.50" x2="475.03" y2="44.50" stroke="#000" stroke-width="1.0" />
<line x1="603.03" y1="44.50" x2="587.03" y2="44.50" stroke="#000" stroke-width="1.0" />
<line x1="459.03" y1="24.81" x2="467.03" y2="24.81" stroke="#000" stroke-width="1.0" />
<line x1="603.03" y1="24.81" x2="595.03" y2="24.81" stroke="#000" stroke-width="1.0" />
<rect x="616.03" y="13.30" width="143.47" height="358.20" fill="none" stroke="#000" stroke-width="1.05"/>
<line x1="620.85" y1="371.50" x2="620.85" y2="364.50" stroke="#000" stroke-width="1.0" />
<line x1="620.85" y1="13.30" x2="620.85" y2="20.30" stroke="#000" stroke-width="1.0" />
<line x1="625.02" y1="371.50" x2="625.02" y2="364.50" stroke="#000" stroke-width="1.0" />
<line x1="625.02" y1="13.30" x2="625.02" y2="20.30" stroke="#000" stroke-width="1.0" />
<line x1="628.71" y1="371.50" x2="628.71" y2="364.50" stroke="#000" stroke-width="1.0" />
<line x1="628.71" y1="13.30" x2="628.71" y2="20.30" stroke="#000" stroke-width="1.0" />
<line x1="632.00" y1="371.50" x2="632.00" y2="357.50" stroke="#000" stroke-width="1.0" />
<line x1="632.00" y1="13.30" x2="632.00" y2="27.30" stroke="#000" stroke-width="1.0" />
<line x1="653.67" y1="371.50" x2="653.67" y2="364.50" stroke="#000" stroke-width="1.0" />
<line x1="653.67" y1="13.30" x2="653.67" y2="20.30" stroke="#000" stroke-width="1.0" />
<line x1="666.35" y1="371.50" x2="666.35" y2="364.50" stroke="#000" stroke-width="1.0" />
<line x1="666.35" y1="13.30" x2="666.35" y2="20.30" stroke="#000" stroke-width="1.0" />
<line x1="675.35" y1="371.50" x2="675.35" y2="364.50" stroke="#000" stroke-width="1.0" />
<line x1="675.35" y1="13.30" x2="675.35" y2="20.30" stroke="#000" stroke-width="1.0" />
<line x1="682.33" y1="371.50" x2="682.33" y2="364.50" stroke="#000" stroke-width="1.0" />
<line x1="682.33" y1="13.30" x2="682.33" y2="20.30" stroke="#000" stroke-width="1.0" />
<line x1="688.03" y1="371.50" x2="688.03" y2="364.50" stroke="#000" stroke-width="1.0" />
<line x1="688.03" y1="13.30" x2="688.03" y2="20.30" stroke="#000" stroke-width="1.0" />
<line x1="692.85" y1="371.50" x2="692.85" y2="364.50" stroke="#000" stroke-width="1.0" />
<line x1="692.85" y1="13.30" x2="692.85" y2="20.30" stroke="#000" stroke-width="1.0" />
<line x1="697.02" y1="371.50" x2="697.02" y2="364.50" stroke="#000" stroke-width="1.0" />
<line x1="697.02" y1="13.30" x2="697.02" y2="20.30" stroke="#000" stroke-width="1.0" />
<line x1="700.71" y1="371.50" x2="700.71" y2="364.50" stroke="#000" stroke-width="1.0" />
<line x1="700.71" y1="13.30" x2="700.71" y2="20.30" stroke="#000" stroke-width="1.0" />
<line x1="704.00" y1="371.50" x2="704.00" y2="357.50" stroke="#000" stroke-width="1.0" />
<line x1="704.00" y1="13.30" x2="704.00" y2="27.30" stroke="#000" stroke-width="1.0" />
<line x1="725.67" y1="371.50" x2="725.67" y2="364.50" stroke="#000" stroke-width="1.0" />
<line x1="725.67" y1="13.30" x2="725.67" y2="20.30" stroke="#000" stroke-width="1.0" />
<line x1="738.35" y1="371.50" x2="738.35" y2="364.50" stroke="#000" stroke-width="1.0" />
<line x1="738.35" y1="13.30" x2="738.35" y2="20.30" stroke="#000" stroke-width="1.0" />
<line x1="747.35" y1="371.50" x2="747.35" y2="364.50" stroke="#000" stroke-width="1.0" />
<line x1="747.35" y1="13.30" x2="747.35" y2="20.30" stroke="#000" stroke-width="1.0" />
<line x1="754.33" y1="371.50" x2="754.33" y2="364.50" stroke="#000" stroke-width="1.0" />
<line x1="754.33" y1="13.30" x2="754.33" y2="20.30" stroke="#000" stroke-width="1.0" />
<line x1="760.03" y1="371.50" x2="760.03" y2="364.50" stroke="#000" stroke-width="1.0" />
<line x1="760.03" y1="13.30" x2="760.03" y2="20.30" stroke="#000" stroke-width="1.0" />
<line x1="616.03" y1="351.81" x2="624.03" y2="351.81" stroke="#000" stroke-width="1.0" />
<line x1="759.50" y1="351.81" x2="751.50" y2="351.81" stroke="#000" stroke-width="1.0" />
<line x1="616.03" y1="340.30" x2="624.03" y2="340.30" stroke="#000" stroke-width="1.0" />
<line x1="759.50" y1="340.30" x2="751.50" y2="340.30" stroke="#000" stroke-width="1.0" />
<line x1="616.03" y1="332.13" x2="624.03" y2="332.13" stroke="#000" stroke-width="1.0" />
<line x1="759.50" y1="332.13" x2="751.50" y2="332.13" stroke="#000" stroke-width="1.0" />
<line x1="616.03" y1="325.79" x2="624.03" y2="325.79" stroke="#000" stroke-width="1.0" />
<line x1="759.50" y1="325.79" x2="751.50" y2="325.79" stroke="#000" stroke-width="1.0" />
<line x1="616.03" y1="320.61" x2="624.03" y2="320.61" stroke="#000" stroke-width="1.0" />
<line x1="759.50" y1="320.61" x2="751.50" y2="320.61" stroke="#000" stroke-width="1.0" />
<line x1="616.03" y1="316.23" x2="624.03" y2="316.23" stroke="#000" stroke-width="1.0" />
<line x1="759.50" y1="316.23" x2="751.50" y2="316.23" stroke="#000" stroke-width="1.0" />
<line x1="616.03" y1="312.44" x2="624.03" y2="312.44" stroke="#000" stroke-width="1.0" />
<line x1="759.50" y1="312.44" x2="751.50" y2="312.44" stroke="#000" stroke-width="1.0" />
<line x1="616.03" y1="309.09" x2="624.03" y2="309.09" stroke="#000" stroke-width="1.0" />
<line x1="759.50" y1="309.09" x2="751.50" y2="309.09" stroke="#000" stroke-width="1.0" />
<line x1="616.03" y1="306.10" x2="632.03" y2="306.10" stroke="#000" stroke-width="1.0" />
<line x1="759.50" y1="306.10" x2="743.50" y2="306.10" stroke="#000" stroke-width="1.0" />
<line x1="616.03" y1="286.41" x2="624.03" y2="286.41" stroke="#000" stroke-width="1.0" />
<line x1="759.50" y1="286.41" x2="751.50" y2="286.41" stroke="#000" stroke-width="1.0" />
<line x1="616.03" y1="274.90" x2="624.03" y2="274.90" stroke="#000" stroke-width="1.0" />
<line x1="759.50" y1="274.90" x2="751.50" y2="274.90" stroke="#000" stroke-width="1.0" />
<line x1="616.03" y1="266.73" x2="624.03" y2="266.73" stroke="#000" stroke-width="1.0" />
<line x1="759.50" y1="266.73" x2="751.50" y2="266.73" stroke="#000" stroke-width="1.0" />
<line x1="616.03" y1="260.39" x2="624.03" y2="260.39" stroke="#000" stroke-width="1.0" />
<line x1="759.50" y1="260.39" x2="751.50" y2="260.39" stroke="#000" stroke-width="1.0" />
<line x1="616.03" y1="255.21" x2="624.03" y2="255.21" stroke="#000" stroke-width="1.0" />
<line x1="759.50" y1="255.21" x2="751.50" y2="255.21" stroke="#000" stroke-width="1.0" />
<line x1="616.03" y1="250.83" x2="624.03" y2="250.83" stroke="#000" stroke-width="1.0" />
<line x1="759.50" y1="250.83" x2="751.50" y2="250.83" stroke="#000" stroke-width="1.0" />
<line x1="616.03" y1="247.04" x2="624.03" y2="247.04" stroke="#000" stroke-width="1.0" />
<line x1="759.50" y1="247.04" x2="751.50" y2="247.04" stroke="#000" stroke-width="1.0" />
<line x1="616.03" y1="243.69" x2="624.03" y2="243.69" stroke="#000" stroke-width="1.0" />
<line x1="759.50" y1="243.69" x2="751.50" y2="243.69" stroke="#000" stroke-width="1.0" />
<line x1="616.03" y1="240.70" x2="632.03" y2="240.70" stroke="#000" stroke-width="1.0" />
<line x1="759.50" y1="240.70" x2="743.50" y2="240.70" stroke="#000" stroke-width="1.0" />
<line x1="616.03" y1="221.01" x2="624.03" y2="221.01" stroke="#000" stroke-width="1.0" />
<line x1="759.50" y1="221.01" x2="751.50" y2="221.01" stroke="#000" stroke-width="1.0" />
<line x1="616.03" y1="209.50" x2="624.03" y2="209.50" stroke="#000" stroke-width="1.0" />
<line x1="759.50" y1="209.50" x2="751.50" y2="209.50" stroke="#000" stroke-width="1.0" />
<line x1="616.03" y1="201.33" x2="624.03" y2="201.33" stroke="#000" stroke-width="1.0" />
<line x1="759.50" y1="201.33" x2="751.50" y2="201.33" stroke="#000" stroke-width="1.0" />
<line x1="616.03" y1="194.99" x2="624.03" y2="194.99" stroke="#000" stroke-width="1.0" />
<line x1="759.50" y1="194.99" x2="751.50" y2="194.99" stroke="#000" stroke-width="1.0" />
<line x1="616.03" y1="189.81" x2="624.03" y2="189.81" stroke="#000" stroke-width="1.0" />
<line x1="759.50" y1="189.81" x2="751.50" y2="189.81" stroke="#000" stroke-width="1.0" />
<line x1="616.03" y1="185.43" x2="624.03" y2="185.43" stroke="#000" stroke-width="1.0" />
<line x1="759.50" y1="185.43" x2="751.50" y2="185.43" stroke="#000" stroke-width="1.0" />
<line x1="616.03" y1="181.64" x2="624.03" y2="181.64" stroke="#000" stroke-width="1.0" />
<line x1="759.50" y1="181.64" x2="751.50" y2="181.64" stroke="#000" stroke-width="1.0" />
<line x1="616.03" y1="178.29" x2="624.03" y2="178.29" stroke="#000" stroke-width="1.0" />
<line x1="759.50" y1="178.29" x2="751.50" y2="178.29" stroke="#000" stroke-width="1.0" />
<line x1="616.03" y1="175.30" x2="632.03" y2="175.30" stroke="#000" stroke-width="1.0" />
<line x1="759.50" y1="175.30" x2="743.50" y2="175.30" stroke="#000" stroke-width="1.0" />
<line x1="616.03" y1="155.61" x2="624.03" y2="155.61" stroke="#000" stroke-width="1.0" />
<line x1="759.50" y1="155.61" x2="751.50" y2="155.61" stroke="#000" stroke-width="1.0" />
<line x1="616.03" y1="144.10" x2="624.03" y2="144.10" stroke="#000" stroke-width="1.0" />
<line x1="759.50" y1="144.10" x2="751.50" y2="144.10" stroke="#000" stroke-width="1.0" />
<line x1="616.03" y1="135.93" x2="624.03" y2="135.93" stroke="#000" stroke-width="1.0" />
<line x1="759.50" y1="135.93" x2="751.50" y2="135.93" stroke="#000" stroke-width="1.0" />
<line x1="616.03" y1="129.59" x2="624.03" y2="129.59" stroke="#000" stroke-width="1.0" />
<line x1="759.50" y1="129.59" x2="751.50" y2="129.59" stroke="#000" stroke-width="1.0" />
<line x1="616.03" y1="124.41" x2="624.03" y2="124.41" stroke="#000" stroke-width="1.0" />
<line x1="759.50" y1="124.41" x2="751.50" y2="124.41" stroke="#000" stroke-width="1.0" />
<line x1="616.03" y1="120.03" x2="624.03" y2="120.03" stroke="#000" stroke-width="1.0" />
<line x1="759.50" y1="120.03" x2="751.50" y2="120.03" stroke="#000" stroke-width="1.0" />
<line x1="616.03" y1="116.24" x2="624.03" y2="116.24" stroke="#000" stroke-width="1.0" />
<line x1="759.50" y1="116.24" x2="751.50" y2="116.24" stroke="#000" stroke-width="1.0" />
<line x1="616.03" y1="112.89" x2="624.03" y2="112.89" stroke="#000" stroke-width="1.0" />
<line x1="759.50" y1="112.89" x2="751.50" y2="112.89" stroke="#000" stroke-width="1.0" />
<line x1="616.03" y1="109.90" x2="632.03" y2="109.90" stroke="#000" stroke-width="1.0" />
<line x1="759.50" y1="109.90" x2="743.50" y2="109.90" stroke="#000" stroke-width="1.0" />
<line x1="616.03" y1="90.21" x2="624.03" y2="90.21" stroke="#000" stroke-width="1.0" />
<line x1="759.50" y1="90.21" x2="751.50" y2="90.21" stroke="#000" stroke-width="1.0" />
<line x1="616.03" y1="78.70" x2="624.03" y2="78.70" stroke="#000" stroke-width="1.0" />
<line x1="759.50" y1="78.70" x2="751.50" y2="78.70" stroke="#000" stroke-width="1.0" />
<line x1="616.03" y1="70.53" x2="624.03" y2="70.53" stroke="#000" stroke-width="1.0" />
<line x1="759.50" y1="70.53" x2="751.50" y2="70.53" stroke="#000" stroke-width="1.0" />
<line x1="616.03" y1="64.19" x2="624.03" y2="64.19" stroke="#000" stroke-width="1.0" />
<line x1="759.50" y1="64.19" x2="751.50" y2="64.19" stroke="#000" stroke-width="1.0" />
<line x1="616.03" y1="59.01" x2="624.03" y2="59.01" stroke="#000" stroke-width="1.0" />
<line x1="759.50" y1="59.01" x2="751.50" y2="59.01" stroke="#000" stroke-width="1.0" />
<line x1="616.03" y1="54.63" x2="624.03" y2="54.63" stroke="#000" stroke-width="1.0" />
<line x1="759.50" y1="54.63" x2="751.50" y2="54.63" stroke="#000" stroke-width="1.0" />
<line x1="616.03" y1="50.84" x2="624.03" y2="50.84" stroke="#000" stroke-width="1.0" />
<line x1="759.50" y1="50.84" x2="751.50" y2="50.84" stroke="#000" stroke-width="1.0" />
<line x1="616.03" y1="47.49" x2="624.03" y2="47.49" stroke="#000" stroke-width="1.0" />
<line x1="759.50" y1="47.49" x2="751.50" y2="47.49" stroke="#000" stroke-width="1.0" />
<line x1="616.03" y1="44.50" x2="632.03" y2="44.50" stroke="#000" stroke-width="1.0" />
<line x1="759.50" y1="44.50" x2="743.50" y2="44.50" stroke="#000" stroke-width="1.0" />
<line x1="616.03" y1="24.81" x2="624.03" y2="24.81" stroke="#000" stroke-width="1.0" />
<line x1="759.50" y1="24.81" x2="751.50" y2="24.81" stroke="#000" stroke-width="1.0" />
<path d="M79.20 16.80L83.40 34.30L87.90 47.50L92.20 81.20L97.40 92.30L102.90 102.30L108.10 124.70L113.70 148.20L118.90 169.20L124.50 199.60L129.40 228.70L135.30 229.00L140.60 258.00L146.00 266.50L151.40 272.80L157.00 297.40L162.10 255.50L167.30 267.90L172.90 266.60L178.60 247.50" fill="none" stroke="#ff1050" stroke-width="1.2" stroke-dasharray="4.2 3.8"/>
<line x1="79.20" y1="14.80" x2="79.20" y2="18.80" stroke="#ff1050" stroke-width="1.1" />
<path d="M76.30 16.80L79.20 13.80L82.10 16.80L79.20 19.80Z" fill="none" stroke="#ff1050" stroke-width="1.2"/>
<line x1="83.40" y1="32.30" x2="83.40" y2="36.30" stroke="#ff1050" stroke-width="1.1" />
<path d="M80.50 34.30L83.40 31.30L86.30 34.30L83.40 37.30Z" fill="none" stroke="#ff1050" stroke-width="1.2"/>
<line x1="87.90" y1="45.50" x2="87.90" y2="49.50" stroke="#ff1050" stroke-width="1.1" />
<path d="M85.00 47.50L87.90 44.50L90.80 47.50L87.90 50.50Z" fill="none" stroke="#ff1050" stroke-width="1.2"/>
<line x1="92.20" y1="79.20" x2="92.20" y2="83.20" stroke="#ff1050" stroke-width="1.1" />
<path d="M89.30 81.20L92.20 78.20L95.10 81.20L92.20 84.20Z" fill="none" stroke="#ff1050" stroke-width="1.2"/>
<line x1="97.40" y1="90.30" x2="97.40" y2="94.30" stroke="#ff1050" stroke-width="1.1" />
<path d="M94.50 92.30L97.40 89.30L100.30 92.30L97.40 95.30Z" fill="none" stroke="#ff1050" stroke-width="1.2"/>
<line x1="102.90" y1="100.30" x2="102.90" y2="104.30" stroke="#ff1050" stroke-width="1.1" />
<path d="M100.00 102.30L102.90 99.30L105.80 102.30L102.90 105.30Z" fill="none" stroke="#ff1050" stroke-width="1.2"/>
<line x1="108.10" y1="122.70" x2="108.10" y2="126.70" stroke="#ff1050" stroke-width="1.1" />
<path d="M105.20 124.70L108.10 121.70L111.00 124.70L108.10 127.70Z" fill="none" stroke="#ff1050" stroke-width="1.2"/>
<line x1="113.70" y1="146.20" x2="113.70" y2="150.20" stroke="#ff1050" stroke-width="1.1" />
<path d="M110.80 148.20L113.70 145.20L116.60 148.20L113.70 151.20Z" fill="none" stroke="#ff1050" stroke-width="1.2"/>
<line x1="118.90" y1="167.20" x2="118.90" y2="171.20" stroke="#ff1050" stroke-width="1.1" />
<path d="M116.00 169.20L118.90 166.20L121.80 169.20L118.90 172.20Z" fill="none" stroke="#ff1050" stroke-width="1.2"/>
<line x1="124.50" y1="193.00" x2="124.50" y2="206.00" stroke="#ff1050" stroke-width="1.1" />
<path d="M121.60 199.60L124.50 196.60L127.40 199.60L124.50 202.60Z" fill="none" stroke="#ff1050" stroke-width="1.2"/>
<line x1="129.40" y1="222.00" x2="129.40" y2="243.30" stroke="#ff1050" stroke-width="1.1" />
<path d="M126.50 228.70L129.40 225.70L132.30 228.70L129.40 231.70Z" fill="none" stroke="#ff1050" stroke-width="1.2"/>
<line x1="135.30" y1="220.00" x2="135.30" y2="242.50" stroke="#ff1050" stroke-width="1.1" />
<path d="M132.40 229.00L135.30 226.00L138.20 229.00L135.30 232.00Z" fill="none" stroke="#ff1050" stroke-width="1.2"/>
<line x1="140.60" y1="245.20" x2="140.60" y2="263.00" stroke="#ff1050" stroke-width="1.1" />
<path d="M137.70 258.00L140.60 255.00L143.50 258.00L140.60 261.00Z" fill="none" stroke="#ff1050" stroke-width="1.2"/>
<line x1="146.00" y1="262.00" x2="146.00" y2="271.00" stroke="#ff1050" stroke-width="1.1" />
<path d="M143.10 266.50L146.00 263.50L148.90 266.50L146.00 269.50Z" fill="none" stroke="#ff1050" stroke-width="1.2"/>
<line x1="151.40" y1="261.00" x2="151.40" y2="307.60" stroke="#ff1050" stroke-width="1.1" />
<path d="M148.50 272.80L151.40 269.80L154.30 272.80L151.40 275.80Z" fill="none" stroke="#ff1050" stroke-width="1.2"/>
<line x1="157.00" y1="285.00" x2="157.00" y2="371.50" stroke="#ff1050" stroke-width="1.1" />
<path d="M154.10 297.40L157.00 294.40L159.90 297.40L157.00 300.40Z" fill="none" stroke="#ff1050" stroke-width="1.2"/>
<line x1="162.10" y1="250.00" x2="162.10" y2="261.00" stroke="#ff1050" stroke-width="1.1" />
<path d="M159.20 255.50L162.10 252.50L165.00 255.50L162.10 258.50Z" fill="none" stroke="#ff1050" stroke-width="1.2"/>
<line x1="167.30" y1="252.00" x2="167.30" y2="287.20" stroke="#ff1050" stroke-width="1.1" />
<path d="M164.40 267.90L167.30 264.90L170.20 267.90L167.30 270.90Z" fill="none" stroke="#ff1050" stroke-width="1.2"/>
<line x1="172.90" y1="258.00" x2="172.90" y2="283.20" stroke="#ff1050" stroke-width="1.1" />
<path d="M170.00 266.60L172.90 263.60L175.80 266.60L172.90 269.60Z" fill="none" stroke="#ff1050" stroke-width="1.2"/>
<line x1="178.60" y1="239.30" x2="178.60" y2="256.00" stroke="#ff1050" stroke-width="1.1" />
<path d="M175.70 247.50L178.60 244.50L181.50 247.50L178.60 250.50Z" fill="none" stroke="#ff1050" stroke-width="1.2"/>
<path d="M79.10 95.60L83.10 120.40L88.00 127.00L91.70 157.10L97.40 172.70L102.80 169.80L108.00 197.30L113.50 205.50L119.10 249.70L124.50 254.80" fill="none" stroke="#0000ff" stroke-width="1.2" stroke-dasharray="4.2 3.8"/>
<path d="M135.20 264.60L140.70 282.80L146.00 271.80L151.40 233.90L157.00 277.30L162.30 256.60L167.80 254.50L173.20 246.00L178.60 262.90" fill="none" stroke="#0000ff" stroke-width="1.2" stroke-dasharray="4.2 3.8"/>
<line x1="79.10" y1="93.60" x2="79.10" y2="97.60" stroke="#0000ff" stroke-width="1.1" />
<path d="M79.10 91.00V100.20M76.10 92.90L82.10 98.30M76.10 98.30L82.10 92.90" fill="none" stroke="#0000ff" stroke-width="1.05"/>
<line x1="83.10" y1="118.40" x2="83.10" y2="122.40" stroke="#0000ff" stroke-width="1.1" />
<path d="M83.10 115.80V125.00M80.10 117.70L86.10 123.10M80.10 123.10L86.10 117.70" fill="none" stroke="#0000ff" stroke-width="1.05"/>
<line x1="88.00" y1="125.00" x2="88.00" y2="129.00" stroke="#0000ff" stroke-width="1.1" />
<path d="M88.00 122.40V131.60M85.00 124.30L91.00 129.70M85.00 129.70L91.00 124.30" fill="none" stroke="#0000ff" stroke-width="1.05"/>
<line x1="91.70" y1="150.40" x2="91.70" y2="165.80" stroke="#0000ff" stroke-width="1.1" />
<path d="M91.70 152.50V161.70M88.70 154.40L94.70 159.80M88.70 159.80L94.70 154.40" fill="none" stroke="#0000ff" stroke-width="1.05"/>
<line x1="97.40" y1="166.30" x2="97.40" y2="181.10" stroke="#0000ff" stroke-width="1.1" />
<path d="M97.40 168.10V177.30M94.40 170.00L100.40 175.40M94.40 175.40L100.40 170.00" fill="none" stroke="#0000ff" stroke-width="1.05"/>
<line x1="102.80" y1="164.30" x2="102.80" y2="175.70" stroke="#0000ff" stroke-width="1.1" />
<path d="M102.80 165.20V174.40M99.80 167.10L105.80 172.50M99.80 172.50L105.80 167.10" fill="none" stroke="#0000ff" stroke-width="1.05"/>
<line x1="108.00" y1="189.90" x2="108.00" y2="208.50" stroke="#0000ff" stroke-width="1.1" />
<path d="M108.00 192.70V201.90M105.00 194.60L111.00 200.00M105.00 200.00L111.00 194.60" fill="none" stroke="#0000ff" stroke-width="1.05"/>
<line x1="113.50" y1="197.30" x2="113.50" y2="217.00" stroke="#0000ff" stroke-width="1.1" />
<path d="M113.50 200.90V210.10M110.50 202.80L116.50 208.20M110.50 208.20L116.50 202.80" fill="none" stroke="#0000ff" stroke-width="1.05"/>
<line x1="119.10" y1="235.00" x2="119.10" y2="284.40" stroke="#0000ff" stroke-width="1.1" />
<path d="M119.10 245.10V254.30M116.10 247.00L122.10 252.40M116.10 252.40L122.10 247.00" fill="none" stroke="#0000ff" stroke-width="1.05"/>
<line x1="124.50" y1="239.80" x2="124.50" y2="287.00" stroke="#0000ff" stroke-width="1.1" />
<path d="M124.50 250.20V259.40M121.50 252.10L127.50 257.50M121.50 257.50L127.50 252.10" fill="none" stroke="#0000ff" stroke-width="1.05"/>
<line x1="135.20" y1="249.40" x2="135.20" y2="299.30" stroke="#0000ff" stroke-width="1.1" />
<path d="M135.20 260.00V269.20M132.20 261.90L138.20 267.30M132.20 267.30L138.20 261.90" fill="none" stroke="#0000ff" stroke-width="1.05"/>
<line x1="140.70" y1="262.00" x2="140.70" y2="371.50" stroke="#0000ff" stroke-width="1.1" />
<path d="M140.70 278.20V287.40M137.70 280.10L143.70 285.50M137.70 285.50L143.70 280.10" fill="none" stroke="#0000ff" stroke-width="1.05"/>
<line x1="146.00" y1="258.00" x2="146.00" y2="305.70" stroke="#0000ff" stroke-width="1.1" />
<path d="M146.00 267.20V276.40M143.00 269.10L149.00 274.50M143.00 274.50L149.00 269.10" fill="none" stroke="#0000ff" stroke-width="1.05"/>
<line x1="151.40" y1="225.00" x2="151.40" y2="243.00" stroke="#0000ff" stroke-width="1.1" />
<path d="M151.40 229.30V238.50M148.40 231.20L154.40 236.60M148.40 236.60L154.40 231.20" fill="none" stroke="#0000ff" stroke-width="1.05"/>
<line x1="157.00" y1="264.90" x2="157.00" y2="313.00" stroke="#0000ff" stroke-width="1.1" />
<path d="M157.00 272.70V281.90M154.00 274.60L160.00 280.00M154.00 280.00L160.00 274.60" fill="none" stroke="#0000ff" stroke-width="1.05"/>
<line x1="162.30" y1="246.20" x2="162.30" y2="273.30" stroke="#0000ff" stroke-width="1.1" />
<path d="M162.30 252.00V261.20M159.30 253.90L165.30 259.30M159.30 259.30L165.30 253.90" fill="none" stroke="#0000ff" stroke-width="1.05"/>
<line x1="167.80" y1="243.30" x2="167.80" y2="265.00" stroke="#0000ff" stroke-width="1.1" />
<path d="M167.80 249.90V259.10M164.80 251.80L170.80 257.20M164.80 257.20L170.80 251.80" fill="none" stroke="#0000ff" stroke-width="1.05"/>
<line x1="173.20" y1="239.30" x2="173.20" y2="264.00" stroke="#0000ff" stroke-width="1.1" />
<path d="M173.20 241.40V250.60M170.20 243.30L176.20 248.70M170.20 248.70L176.20 243.30" fill="none" stroke="#0000ff" stroke-width="1.05"/>
<line x1="178.60" y1="250.00" x2="178.60" y2="279.80" stroke="#0000ff" stroke-width="1.1" />
<path d="M178.60 258.30V267.50M175.60 260.20L181.60 265.60M175.60 265.60L181.60 260.20" fill="none" stroke="#0000ff" stroke-width="1.05"/>
<path d="M79.30 175.00L83.10 193.80L88.20 205.80L91.60 205.80L97.20 218.00L102.80 229.70L107.80 255.00L113.40 245.00L118.90 279.50L124.50 287.80L130.10 280.50L135.50 276.40L140.90 276.90L146.00 267.80L151.40 261.00L156.80 256.20L162.00 254.70L167.70 253.70L173.20 251.00L178.80 252.30" fill="none" stroke="#000" stroke-width="1.2" stroke-dasharray="4.2 3.8"/>
<line x1="79.30" y1="173.00" x2="79.30" y2="177.00" stroke="#000" stroke-width="1.1" />
<rect x="76.70" y="172.40" width="5.2" height="5.2" fill="none" stroke="#000" stroke-width="1.05"/>
<line x1="83.10" y1="191.80" x2="83.10" y2="195.80" stroke="#000" stroke-width="1.1" />
<rect x="80.50" y="191.20" width="5.2" height="5.2" fill="none" stroke="#000" stroke-width="1.05"/>
<line x1="88.20" y1="203.80" x2="88.20" y2="207.80" stroke="#000" stroke-width="1.1" />
<rect x="85.60" y="203.20" width="5.2" height="5.2" fill="none" stroke="#000" stroke-width="1.05"/>
<line x1="91.60" y1="203.80" x2="91.60" y2="207.80" stroke="#000" stroke-width="1.1" />
<rect x="89.00" y="203.20" width="5.2" height="5.2" fill="none" stroke="#000" stroke-width="1.05"/>
<line x1="97.20" y1="216.00" x2="97.20" y2="220.00" stroke="#000" stroke-width="1.1" />
<rect x="94.60" y="215.40" width="5.2" height="5.2" fill="none" stroke="#000" stroke-width="1.05"/>
<line x1="102.80" y1="227.70" x2="102.80" y2="231.70" stroke="#000" stroke-width="1.1" />
<rect x="100.20" y="227.10" width="5.2" height="5.2" fill="none" stroke="#000" stroke-width="1.05"/>
<line x1="107.80" y1="253.00" x2="107.80" y2="257.00" stroke="#000" stroke-width="1.1" />
<rect x="105.20" y="252.40" width="5.2" height="5.2" fill="none" stroke="#000" stroke-width="1.05"/>
<line x1="113.40" y1="243.00" x2="113.40" y2="247.00" stroke="#000" stroke-width="1.1" />
<rect x="110.80" y="242.40" width="5.2" height="5.2" fill="none" stroke="#000" stroke-width="1.05"/>
<line x1="118.90" y1="277.50" x2="118.90" y2="281.50" stroke="#000" stroke-width="1.1" />
<rect x="116.30" y="276.90" width="5.2" height="5.2" fill="none" stroke="#000" stroke-width="1.05"/>
<line x1="124.50" y1="285.80" x2="124.50" y2="289.80" stroke="#000" stroke-width="1.1" />
<rect x="121.90" y="285.20" width="5.2" height="5.2" fill="none" stroke="#000" stroke-width="1.05"/>
<line x1="130.10" y1="278.50" x2="130.10" y2="282.50" stroke="#000" stroke-width="1.1" />
<rect x="127.50" y="277.90" width="5.2" height="5.2" fill="none" stroke="#000" stroke-width="1.05"/>
<line x1="135.50" y1="274.40" x2="135.50" y2="278.40" stroke="#000" stroke-width="1.1" />
<rect x="132.90" y="273.80" width="5.2" height="5.2" fill="none" stroke="#000" stroke-width="1.05"/>
<line x1="140.90" y1="274.90" x2="140.90" y2="278.90" stroke="#000" stroke-width="1.1" />
<rect x="138.30" y="274.30" width="5.2" height="5.2" fill="none" stroke="#000" stroke-width="1.05"/>
<line x1="146.00" y1="265.80" x2="146.00" y2="269.80" stroke="#000" stroke-width="1.1" />
<rect x="143.40" y="265.20" width="5.2" height="5.2" fill="none" stroke="#000" stroke-width="1.05"/>
<line x1="151.40" y1="259.00" x2="151.40" y2="263.00" stroke="#000" stroke-width="1.1" />
<rect x="148.80" y="258.40" width="5.2" height="5.2" fill="none" stroke="#000" stroke-width="1.05"/>
<line x1="156.80" y1="254.20" x2="156.80" y2="258.20" stroke="#000" stroke-width="1.1" />
<rect x="154.20" y="253.60" width="5.2" height="5.2" fill="none" stroke="#000" stroke-width="1.05"/>
<line x1="162.00" y1="252.70" x2="162.00" y2="256.70" stroke="#000" stroke-width="1.1" />
<rect x="159.40" y="252.10" width="5.2" height="5.2" fill="none" stroke="#000" stroke-width="1.05"/>
<line x1="167.70" y1="251.70" x2="167.70" y2="255.70" stroke="#000" stroke-width="1.1" />
<rect x="165.10" y="251.10" width="5.2" height="5.2" fill="none" stroke="#000" stroke-width="1.05"/>
<line x1="173.20" y1="249.00" x2="173.20" y2="253.00" stroke="#000" stroke-width="1.1" />
<rect x="170.60" y="248.40" width="5.2" height="5.2" fill="none" stroke="#000" stroke-width="1.05"/>
<line x1="178.80" y1="250.30" x2="178.80" y2="254.30" stroke="#000" stroke-width="1.1" />
<rect x="176.20" y="249.70" width="5.2" height="5.2" fill="none" stroke="#000" stroke-width="1.05"/>
<path d="M235.70 98.20L240.00 117.30L244.60 131.90L248.80 160.30L254.50 164.70L259.40 199.40L265.20 194.50L270.70 233.30L276.10 250.00L281.20 255.20L286.80 279.60L292.30 261.20L297.50 281.50L302.90 267.50L307.90 273.30L313.90 277.80L319.40 282.60L324.70 307.30L330.30 292.70L335.80 268.50" fill="none" stroke="#ff1050" stroke-width="1.2" stroke-dasharray="4.2 3.8"/>
<line x1="235.70" y1="96.20" x2="235.70" y2="100.20" stroke="#ff1050" stroke-width="1.1" />
<path d="M232.80 98.20L235.70 95.20L238.60 98.20L235.70 101.20Z" fill="none" stroke="#ff1050" stroke-width="1.2"/>
<line x1="240.00" y1="115.30" x2="240.00" y2="119.30" stroke="#ff1050" stroke-width="1.1" />
<path d="M237.10 117.30L240.00 114.30L242.90 117.30L240.00 120.30Z" fill="none" stroke="#ff1050" stroke-width="1.2"/>
<line x1="244.60" y1="129.90" x2="244.60" y2="133.90" stroke="#ff1050" stroke-width="1.1" />
<path d="M241.70 131.90L244.60 128.90L247.50 131.90L244.60 134.90Z" fill="none" stroke="#ff1050" stroke-width="1.2"/>
<line x1="248.80" y1="154.80" x2="248.80" y2="169.60" stroke="#ff1050" stroke-width="1.1" />
<path d="M245.90 160.30L248.80 157.30L251.70 160.30L248.80 163.30Z" fill="none" stroke="#ff1050" stroke-width="1.2"/>
<line x1="254.50" y1="159.00" x2="254.50" y2="170.80" stroke="#ff1050" stroke-width="1.1" />
<path d="M251.60 164.70L254.50 161.70L257.40 164.70L254.50 167.70Z" fill="none" stroke="#ff1050" stroke-width="1.2"/>
<line x1="259.40" y1="189.80" x2="259.40" y2="212.00" stroke="#ff1050" stroke-width="1.1" />
<path d="M256.50 199.40L259.40 196.40L262.30 199.40L259.40 202.40Z" fill="none" stroke="#ff1050" stroke-width="1.2"/>
<line x1="265.20" y1="187.30" x2="265.20" y2="202.00" stroke="#ff1050" stroke-width="1.1" />
<path d="M262.30 194.50L265.20 191.50L268.10 194.50L265.20 197.50Z" fill="none" stroke="#ff1050" stroke-width="1.2"/>
<line x1="270.70" y1="221.00" x2="270.70" y2="257.80" stroke="#ff1050" stroke-width="1.1" />
<path d="M267.80 233.30L270.70 230.30L273.60 233.30L270.70 236.30Z" fill="none" stroke="#ff1050" stroke-width="1.2"/>
<line x1="276.10" y1="235.00" x2="276.10" y2="283.70" stroke="#ff1050" stroke-width="1.1" />
<path d="M273.20 250.00L276.10 247.00L279.00 250.00L276.10 253.00Z" fill="none" stroke="#ff1050" stroke-width="1.2"/>
<line x1="281.20" y1="240.00" x2="281.20" y2="262.00" stroke="#ff1050" stroke-width="1.1" />
<path d="M278.30 255.20L281.20 252.20L284.10 255.20L281.20 258.20Z" fill="none" stroke="#ff1050" stroke-width="1.2"/>
<line x1="286.80" y1="259.70" x2="286.80" y2="371.50" stroke="#ff1050" stroke-width="1.1" />
<path d="M283.90 279.60L286.80 276.60L289.70 279.60L286.80 282.60Z" fill="none" stroke="#ff1050" stroke-width="1.2"/>
<line x1="292.30" y1="245.90" x2="292.30" y2="265.00" stroke="#ff1050" stroke-width="1.1" />
<path d="M289.40 261.20L292.30 258.20L295.20 261.20L292.30 264.20Z" fill="none" stroke="#ff1050" stroke-width="1.2"/>
<line x1="297.50" y1="276.00" x2="297.50" y2="287.00" stroke="#ff1050" stroke-width="1.1" />
<path d="M294.60 281.50L297.50 278.50L300.40 281.50L297.50 284.50Z" fill="none" stroke="#ff1050" stroke-width="1.2"/>
<line x1="302.90" y1="253.00" x2="302.90" y2="272.00" stroke="#ff1050" stroke-width="1.1" />
<path d="M300.00 267.50L302.90 264.50L305.80 267.50L302.90 270.50Z" fill="none" stroke="#ff1050" stroke-width="1.2"/>
<line x1="307.90" y1="262.00" x2="307.90" y2="280.00" stroke="#ff1050" stroke-width="1.1" />
<path d="M305.00 273.30L307.90 270.30L310.80 273.30L307.90 276.30Z" fill="none" stroke="#ff1050" stroke-width="1.2"/>
<line x1="313.90" y1="272.00" x2="313.90" y2="283.00" stroke="#ff1050" stroke-width="1.1" />
<path d="M311.00 277.80L313.90 274.80L316.80 277.80L313.90 280.80Z" fill="none" stroke="#ff1050" stroke-width="1.2"/>
<line x1="319.40" y1="277.00" x2="319.40" y2="288.00" stroke="#ff1050" stroke-width="1.1" />
<path d="M316.50 282.60L319.40 279.60L322.30 282.60L319.40 285.60Z" fill="none" stroke="#ff1050" stroke-width="1.2"/>
<line x1="324.70" y1="301.00" x2="324.70" y2="371.50" stroke="#ff1050" stroke-width="1.1" />
<path d="M321.80 307.30L324.70 304.30L327.60 307.30L324.70 310.30Z" fill="none" stroke="#ff1050" stroke-width="1.2"/>
<line x1="330.30" y1="287.00" x2="330.30" y2="298.00" stroke="#ff1050" stroke-width="1.1" />
<path d="M327.40 292.70L330.30 289.70L333.20 292.70L330.30 295.70Z" fill="none" stroke="#ff1050" stroke-width="1.2"/>
<line x1="335.80" y1="255.50" x2="335.80" y2="285.00" stroke="#ff1050" stroke-width="1.1" />
<path d="M332.90 268.50L335.80 265.50L338.70 268.50L335.80 271.50Z" fill="none" stroke="#ff1050" stroke-width="1.2"/>
<path d="M235.50 179.90L240.10 205.70L244.80 192.80L249.10 193.70L254.50 218.60" fill="none" stroke="#0000ff" stroke-width="1.2" stroke-dasharray="4.2 3.8"/>
<path d="M292.50 283.70L297.60 282.50L302.80 287.00L308.40 273.60L313.80 258.00L319.10 283.30L324.60 276.00L330.20 292.50L335.30 300.00" fill="none" stroke="#0000ff" stroke-width="1.2" stroke-dasharray="4.2 3.8"/>
<line x1="235.50" y1="165.00" x2="235.50" y2="214.90" stroke="#0000ff" stroke-width="1.1" />
<path d="M235.50 175.30V184.50M232.50 177.20L238.50 182.60M232.50 182.60L238.50 177.20" fill="none" stroke="#0000ff" stroke-width="1.05"/>
<line x1="240.10" y1="187.30" x2="240.10" y2="371.50" stroke="#0000ff" stroke-width="1.1" />
<path d="M240.10 201.10V210.30M237.10 203.00L243.10 208.40M237.10 208.40L243.10 203.00" fill="none" stroke="#0000ff" stroke-width="1.05"/>
<line x1="244.80" y1="177.40" x2="244.80" y2="227.20" stroke="#0000ff" stroke-width="1.1" />
<path d="M244.80 188.20V197.40M241.80 190.10L247.80 195.50M241.80 195.50L247.80 190.10" fill="none" stroke="#0000ff" stroke-width="1.05"/>
<line x1="249.10" y1="181.00" x2="249.10" y2="218.00" stroke="#0000ff" stroke-width="1.1" />
<path d="M249.10 189.10V198.30M246.10 191.00L252.10 196.40M246.10 196.40L252.10 191.00" fill="none" stroke="#0000ff" stroke-width="1.05"/>
<line x1="254.50" y1="206.20" x2="254.50" y2="242.70" stroke="#0000ff" stroke-width="1.1" />
<path d="M254.50 214.00V223.20M251.50 215.90L257.50 221.30M251.50 221.30L257.50 215.90" fill="none" stroke="#0000ff" stroke-width="1.05"/>
<line x1="281.40" y1="254.80" x2="281.40" y2="371.50" stroke="#0000ff" stroke-width="1.1" />
<path d="M281.40 269.70V278.90M278.40 271.60L284.40 277.00M278.40 277.00L284.40 271.60" fill="none" stroke="#0000ff" stroke-width="1.05"/>
<line x1="292.50" y1="264.50" x2="292.50" y2="371.50" stroke="#0000ff" stroke-width="1.1" />
<path d="M292.50 279.10V288.30M289.50 281.00L295.50 286.40M289.50 286.40L295.50 281.00" fill="none" stroke="#0000ff" stroke-width="1.05"/>
<line x1="297.60" y1="262.80" x2="297.60" y2="371.50" stroke="#0000ff" stroke-width="1.1" />
<path d="M297.60 277.90V287.10M294.60 279.80L300.60 285.20M294.60 285.20L300.60 279.80" fill="none" stroke="#0000ff" stroke-width="1.05"/>
<line x1="302.80" y1="270.50" x2="302.80" y2="371.50" stroke="#0000ff" stroke-width="1.1" />
<path d="M302.80 282.40V291.60M299.80 284.30L305.80 289.70M299.80 289.70L305.80 284.30" fill="none" stroke="#0000ff" stroke-width="1.05"/>
<line x1="308.40" y1="257.80" x2="308.40" y2="307.30" stroke="#0000ff" stroke-width="1.1" />
<path d="M308.40 269.00V278.20M305.40 270.90L311.40 276.30M305.40 276.30L311.40 270.90" fill="none" stroke="#0000ff" stroke-width="1.05"/>
<line x1="313.80" y1="246.90" x2="313.80" y2="271.00" stroke="#0000ff" stroke-width="1.1" />
<path d="M313.80 253.40V262.60M310.80 255.30L316.80 260.70M310.80 260.70L316.80 255.30" fill="none" stroke="#0000ff" stroke-width="1.05"/>
<line x1="319.10" y1="267.60" x2="319.10" y2="316.40" stroke="#0000ff" stroke-width="1.1" />
<path d="M319.10 278.70V287.90M316.10 280.60L322.10 286.00M316.10 286.00L322.10 280.60" fill="none" stroke="#0000ff" stroke-width="1.05"/>
<line x1="324.60" y1="263.60" x2="324.60" y2="290.00" stroke="#0000ff" stroke-width="1.1" />
<path d="M324.60 271.40V280.60M321.60 273.30L327.60 278.70M321.60 278.70L327.60 273.30" fill="none" stroke="#0000ff" stroke-width="1.05"/>
<line x1="330.20" y1="280.00" x2="330.20" y2="327.80" stroke="#0000ff" stroke-width="1.1" />
<path d="M330.20 287.90V297.10M327.20 289.80L333.20 295.20M327.20 295.20L333.20 289.80" fill="none" stroke="#0000ff" stroke-width="1.05"/>
<line x1="335.30" y1="285.00" x2="335.30" y2="371.50" stroke="#0000ff" stroke-width="1.1" />
<path d="M335.30 295.40V304.60M332.30 297.30L338.30 302.70M332.30 302.70L338.30 297.30" fill="none" stroke="#0000ff" stroke-width="1.05"/>
<path d="M234.90 236.90L239.90 275.70L244.60 296.80L248.80 253.40L254.40 256.60L259.50 276.40L265.00 285.60L270.20 301.00L276.10 304.80L281.30 284.70L286.80 280.20L292.30 277.30L297.70 271.80L302.80 266.70L308.60 268.30L313.80 277.70L319.10 282.70L324.70 275.90L330.30 267.80L335.80 275.30" fill="none" stroke="#000" stroke-width="1.2" stroke-dasharray="4.2 3.8"/>
<line x1="234.90" y1="234.90" x2="234.90" y2="238.90" stroke="#000" stroke-width="1.1" />
<rect x="232.30" y="234.30" width="5.2" height="5.2" fill="none" stroke="#000" stroke-width="1.05"/>
<line x1="239.90" y1="273.70" x2="239.90" y2="277.70" stroke="#000" stroke-width="1.1" />
<rect x="237.30" y="273.10" width="5.2" height="5.2" fill="none" stroke="#000" stroke-width="1.05"/>
<line x1="244.60" y1="291.60" x2="244.60" y2="310.40" stroke="#000" stroke-width="1.1" />
<rect x="242.00" y="294.20" width="5.2" height="5.2" fill="none" stroke="#000" stroke-width="1.05"/>
<line x1="248.80" y1="251.40" x2="248.80" y2="255.40" stroke="#000" stroke-width="1.1" />
<rect x="246.20" y="250.80" width="5.2" height="5.2" fill="none" stroke="#000" stroke-width="1.05"/>
<line x1="254.40" y1="254.60" x2="254.40" y2="258.60" stroke="#000" stroke-width="1.1" />
<rect x="251.80" y="254.00" width="5.2" height="5.2" fill="none" stroke="#000" stroke-width="1.05"/>
<line x1="259.50" y1="274.40" x2="259.50" y2="278.40" stroke="#000" stroke-width="1.1" />
<rect x="256.90" y="273.80" width="5.2" height="5.2" fill="none" stroke="#000" stroke-width="1.05"/>
<line x1="265.00" y1="281.80" x2="265.00" y2="290.30" stroke="#000" stroke-width="1.1" />
<rect x="262.40" y="283.00" width="5.2" height="5.2" fill="none" stroke="#000" stroke-width="1.05"/>
<line x1="270.20" y1="297.00" x2="270.20" y2="307.20" stroke="#000" stroke-width="1.1" />
<rect x="267.60" y="298.40" width="5.2" height="5.2" fill="none" stroke="#000" stroke-width="1.05"/>
<line x1="276.10" y1="300.50" x2="276.10" y2="311.30" stroke="#000" stroke-width="1.1" />
<rect x="273.50" y="302.20" width="5.2" height="5.2" fill="none" stroke="#000" stroke-width="1.05"/>
<line x1="281.30" y1="282.70" x2="281.30" y2="286.70" stroke="#000" stroke-width="1.1" />
<rect x="278.70" y="282.10" width="5.2" height="5.2" fill="none" stroke="#000" stroke-width="1.05"/>
<line x1="286.80" y1="278.20" x2="286.80" y2="282.20" stroke="#000" stroke-width="1.1" />
<rect x="284.20" y="277.60" width="5.2" height="5.2" fill="none" stroke="#000" stroke-width="1.05"/>
<line x1="292.30" y1="275.30" x2="292.30" y2="279.30" stroke="#000" stroke-width="1.1" />
<rect x="289.70" y="274.70" width="5.2" height="5.2" fill="none" stroke="#000" stroke-width="1.05"/>
<line x1="297.70" y1="269.80" x2="297.70" y2="273.80" stroke="#000" stroke-width="1.1" />
<rect x="295.10" y="269.20" width="5.2" height="5.2" fill="none" stroke="#000" stroke-width="1.05"/>
<line x1="302.80" y1="264.70" x2="302.80" y2="268.70" stroke="#000" stroke-width="1.1" />
<rect x="300.20" y="264.10" width="5.2" height="5.2" fill="none" stroke="#000" stroke-width="1.05"/>
<line x1="308.60" y1="266.30" x2="308.60" y2="270.30" stroke="#000" stroke-width="1.1" />
<rect x="306.00" y="265.70" width="5.2" height="5.2" fill="none" stroke="#000" stroke-width="1.05"/>
<line x1="313.80" y1="275.70" x2="313.80" y2="279.70" stroke="#000" stroke-width="1.1" />
<rect x="311.20" y="275.10" width="5.2" height="5.2" fill="none" stroke="#000" stroke-width="1.05"/>
<line x1="319.10" y1="280.70" x2="319.10" y2="284.70" stroke="#000" stroke-width="1.1" />
<rect x="316.50" y="280.10" width="5.2" height="5.2" fill="none" stroke="#000" stroke-width="1.05"/>
<line x1="324.70" y1="273.90" x2="324.70" y2="277.90" stroke="#000" stroke-width="1.1" />
<rect x="322.10" y="273.30" width="5.2" height="5.2" fill="none" stroke="#000" stroke-width="1.05"/>
<line x1="330.30" y1="265.80" x2="330.30" y2="269.80" stroke="#000" stroke-width="1.1" />
<rect x="327.70" y="265.20" width="5.2" height="5.2" fill="none" stroke="#000" stroke-width="1.05"/>
<line x1="335.80" y1="273.30" x2="335.80" y2="277.30" stroke="#000" stroke-width="1.1" />
<rect x="333.20" y="272.70" width="5.2" height="5.2" fill="none" stroke="#000" stroke-width="1.05"/>
<line x1="480.90" y1="18.10" x2="542.60" y2="262.40" stroke="#000" stroke-width="1.05" />
<line x1="480.90" y1="102.60" x2="542.60" y2="334.40" stroke="#000" stroke-width="1.05" />
<line x1="637.40" y1="100.00" x2="683.30" y2="275.50" stroke="#000" stroke-width="1.05" />
<line x1="637.40" y1="186.10" x2="683.10" y2="359.80" stroke="#000" stroke-width="1.05" stroke-dasharray="4.2 3.8"/>
<line x1="480.90" y1="14.70" x2="480.90" y2="18.70" stroke="#ff1050" stroke-width="1.1" />
<path d="M478.00 16.70L480.90 13.70L483.80 16.70L480.90 19.70Z" fill="none" stroke="#ff1050" stroke-width="1.2"/>
<line x1="485.10" y1="32.30" x2="485.10" y2="36.30" stroke="#ff1050" stroke-width="1.1" />
<path d="M482.20 34.30L485.10 31.30L488.00 34.30L485.10 37.30Z" fill="none" stroke="#ff1050" stroke-width="1.2"/>
<line x1="489.80" y1="45.70" x2="489.80" y2="49.70" stroke="#ff1050" stroke-width="1.1" />
<path d="M486.90 47.70L489.80 44.70L492.70 47.70L489.80 50.70Z" fill="none" stroke="#ff1050" stroke-width="1.2"/>
<line x1="493.40" y1="79.70" x2="493.40" y2="83.70" stroke="#ff1050" stroke-width="1.1" />
<path d="M490.50 81.70L493.40 78.70L496.30 81.70L493.40 84.70Z" fill="none" stroke="#ff1050" stroke-width="1.2"/>
<line x1="499.20" y1="90.40" x2="499.20" y2="94.40" stroke="#ff1050" stroke-width="1.1" />
<path d="M496.30 92.40L499.20 89.40L502.10 92.40L499.20 95.40Z" fill="none" stroke="#ff1050" stroke-width="1.2"/>
<line x1="504.80" y1="100.40" x2="504.80" y2="104.40" stroke="#ff1050" stroke-width="1.1" />
<path d="M501.90 102.40L504.80 99.40L507.70 102.40L504.80 105.40Z" fill="none" stroke="#ff1050" stroke-width="1.2"/>
<line x1="510.30" y1="122.90" x2="510.30" y2="126.90" stroke="#ff1050" stroke-width="1.1" />
<path d="M507.40 124.90L510.30 121.90L513.20 124.90L510.30 127.90Z" fill="none" stroke="#ff1050" stroke-width="1.2"/>
<line x1="515.50" y1="147.20" x2="515.50" y2="151.20" stroke="#ff1050" stroke-width="1.1" />
<path d="M512.60 149.20L515.50 146.20L518.40 149.20L515.50 152.20Z" fill="none" stroke="#ff1050" stroke-width="1.2"/>
<line x1="520.90" y1="167.90" x2="520.90" y2="171.90" stroke="#ff1050" stroke-width="1.1" />
<path d="M518.00 169.90L520.90 166.90L523.80 169.90L520.90 172.90Z" fill="none" stroke="#ff1050" stroke-width="1.2"/>
<line x1="526.60" y1="194.70" x2="526.60" y2="209.60" stroke="#ff1050" stroke-width="1.1" />
<path d="M523.70 200.90L526.60 197.90L529.50 200.90L526.60 203.90Z" fill="none" stroke="#ff1050" stroke-width="1.2"/>
<line x1="531.20" y1="224.30" x2="531.20" y2="248.30" stroke="#ff1050" stroke-width="1.1" />
<path d="M528.30 233.60L531.20 230.60L534.10 233.60L531.20 236.60Z" fill="none" stroke="#ff1050" stroke-width="1.2"/>
<line x1="537.40" y1="226.30" x2="537.40" y2="248.30" stroke="#ff1050" stroke-width="1.1" />
<path d="M534.50 234.70L537.40 231.70L540.30 234.70L537.40 237.70Z" fill="none" stroke="#ff1050" stroke-width="1.2"/>
<line x1="542.50" y1="266.20" x2="542.50" y2="303.60" stroke="#ff1050" stroke-width="1.1" />
<path d="M539.60 279.40L542.50 276.40L545.40 279.40L542.50 282.40Z" fill="none" stroke="#ff1050" stroke-width="1.2"/>
<line x1="580.40" y1="296.10" x2="580.40" y2="316.50" stroke="#ff1050" stroke-width="1.1" />
<path d="M577.50 304.40L580.40 301.40L583.30 304.40L580.40 307.40Z" fill="none" stroke="#ff1050" stroke-width="1.2"/>
<line x1="481.00" y1="95.50" x2="481.00" y2="99.50" stroke="#0000ff" stroke-width="1.1" />
<path d="M481.00 92.90V102.10M478.00 94.80L484.00 100.20M478.00 100.20L484.00 94.80" fill="none" stroke="#0000ff" stroke-width="1.05"/>
<line x1="485.10" y1="120.10" x2="485.10" y2="124.10" stroke="#0000ff" stroke-width="1.1" />
<path d="M485.10 117.50V126.70M482.10 119.40L488.10 124.80M482.10 124.80L488.10 119.40" fill="none" stroke="#0000ff" stroke-width="1.05"/>
<line x1="490.10" y1="126.90" x2="490.10" y2="130.90" stroke="#0000ff" stroke-width="1.1" />
<path d="M490.10 124.30V133.50M487.10 126.20L493.10 131.60M487.10 131.60L493.10 126.20" fill="none" stroke="#0000ff" stroke-width="1.05"/>
<line x1="494.00" y1="156.60" x2="494.00" y2="170.80" stroke="#0000ff" stroke-width="1.1" />
<path d="M494.00 157.80V167.00M491.00 159.70L497.00 165.10M491.00 165.10L497.00 159.70" fill="none" stroke="#0000ff" stroke-width="1.05"/>
<line x1="499.30" y1="172.00" x2="499.30" y2="187.90" stroke="#0000ff" stroke-width="1.1" />
<path d="M499.30 174.60V183.80M496.30 176.50L502.30 181.90M496.30 181.90L502.30 176.50" fill="none" stroke="#0000ff" stroke-width="1.05"/>
<line x1="504.70" y1="167.50" x2="504.70" y2="180.50" stroke="#0000ff" stroke-width="1.1" />
<path d="M504.70 168.40V177.60M501.70 170.30L507.70 175.70M501.70 175.70L507.70 170.30" fill="none" stroke="#0000ff" stroke-width="1.05"/>
<line x1="510.10" y1="193.50" x2="510.10" y2="206.50" stroke="#0000ff" stroke-width="1.1" />
<path d="M510.10 196.50V205.70M507.10 198.40L513.10 203.80M507.10 203.80L513.10 198.40" fill="none" stroke="#0000ff" stroke-width="1.05"/>
<line x1="515.50" y1="205.20" x2="515.50" y2="224.80" stroke="#0000ff" stroke-width="1.1" />
<path d="M515.50 208.40V217.60M512.50 210.30L518.50 215.70M512.50 215.70L518.50 210.30" fill="none" stroke="#0000ff" stroke-width="1.05"/>
<line x1="520.80" y1="247.40" x2="520.80" y2="296.70" stroke="#0000ff" stroke-width="1.1" />
<path d="M520.80 257.40V266.60M517.80 259.30L523.80 264.70M517.80 264.70L523.80 259.30" fill="none" stroke="#0000ff" stroke-width="1.05"/>
<line x1="526.30" y1="250.40" x2="526.30" y2="300.20" stroke="#0000ff" stroke-width="1.1" />
<path d="M526.30 261.40V270.60M523.30 263.30L529.30 268.70M523.30 268.70L529.30 263.30" fill="none" stroke="#0000ff" stroke-width="1.05"/>
<line x1="537.00" y1="280.40" x2="537.00" y2="330.20" stroke="#0000ff" stroke-width="1.1" />
<path d="M537.00 290.90V300.10M534.00 292.80L540.00 298.20M534.00 298.20L540.00 292.80" fill="none" stroke="#0000ff" stroke-width="1.05"/>
<line x1="553.40" y1="238.80" x2="553.40" y2="259.30" stroke="#0000ff" stroke-width="1.1" />
<path d="M553.40 242.40V251.60M550.40 244.30L556.40 249.70M550.40 249.70L556.40 244.30" fill="none" stroke="#0000ff" stroke-width="1.05"/>
<line x1="569.50" y1="327.20" x2="569.50" y2="349.60" stroke="#0000ff" stroke-width="1.1" />
<path d="M569.50 331.60V340.80M566.50 333.50L572.50 338.90M566.50 338.90L572.50 333.50" fill="none" stroke="#0000ff" stroke-width="1.05"/>
<line x1="575.10" y1="299.90" x2="575.10" y2="318.00" stroke="#0000ff" stroke-width="1.1" />
<path d="M575.10 302.70V311.90M572.10 304.60L578.10 310.00M572.10 310.00L578.10 304.60" fill="none" stroke="#0000ff" stroke-width="1.05"/>
<line x1="637.50" y1="96.20" x2="637.50" y2="100.20" stroke="#ff1050" stroke-width="1.1" />
<path d="M634.60 98.20L637.50 95.20L640.40 98.20L637.50 101.20Z" fill="none" stroke="#ff1050" stroke-width="1.2"/>
<line x1="641.80" y1="115.60" x2="641.80" y2="119.60" stroke="#ff1050" stroke-width="1.1" />
<path d="M638.90 117.60L641.80 114.60L644.70 117.60L641.80 120.60Z" fill="none" stroke="#ff1050" stroke-width="1.2"/>
<line x1="646.80" y1="130.00" x2="646.80" y2="134.00" stroke="#ff1050" stroke-width="1.1" />
<path d="M643.90 132.00L646.80 129.00L649.70 132.00L646.80 135.00Z" fill="none" stroke="#ff1050" stroke-width="1.2"/>
<line x1="650.40" y1="154.80" x2="650.40" y2="170.80" stroke="#ff1050" stroke-width="1.1" />
<path d="M647.50 161.60L650.40 158.60L653.30 161.60L650.40 164.60Z" fill="none" stroke="#ff1050" stroke-width="1.2"/>
<line x1="656.90" y1="160.30" x2="656.90" y2="171.50" stroke="#ff1050" stroke-width="1.1" />
<path d="M654.00 165.90L656.90 162.90L659.80 165.90L656.90 168.90Z" fill="none" stroke="#ff1050" stroke-width="1.2"/>
<line x1="661.50" y1="196.00" x2="661.50" y2="214.60" stroke="#ff1050" stroke-width="1.1" />
<path d="M658.60 201.60L661.50 198.60L664.40 201.60L661.50 204.60Z" fill="none" stroke="#ff1050" stroke-width="1.2"/>
<line x1="667.10" y1="188.00" x2="667.10" y2="206.50" stroke="#ff1050" stroke-width="1.1" />
<path d="M664.20 195.40L667.10 192.40L670.00 195.40L667.10 198.40Z" fill="none" stroke="#ff1050" stroke-width="1.2"/>
<line x1="672.40" y1="223.10" x2="672.40" y2="260.20" stroke="#ff1050" stroke-width="1.1" />
<path d="M669.50 236.10L672.40 233.10L675.30 236.10L672.40 239.10Z" fill="none" stroke="#ff1050" stroke-width="1.2"/>
<line x1="677.80" y1="239.20" x2="677.80" y2="289.10" stroke="#ff1050" stroke-width="1.1" />
<path d="M674.90 254.40L677.80 251.40L680.70 254.40L677.80 257.40Z" fill="none" stroke="#ff1050" stroke-width="1.2"/>
<line x1="683.30" y1="251.60" x2="683.30" y2="287.80" stroke="#ff1050" stroke-width="1.1" />
<path d="M680.40 266.80L683.30 263.80L686.20 266.80L683.30 269.80Z" fill="none" stroke="#ff1050" stroke-width="1.2"/>
<line x1="688.50" y1="340.00" x2="688.50" y2="371.50" stroke="#ff1050" stroke-width="1.1" />
<path d="M685.60 360.10L688.50 357.10L691.40 360.10L688.50 363.10Z" fill="none" stroke="#ff1050" stroke-width="1.2"/>
<line x1="694.00" y1="270.10" x2="694.00" y2="319.60" stroke="#ff1050" stroke-width="1.1" />
<path d="M691.10 285.10L694.00 282.10L696.90 285.10L694.00 288.10Z" fill="none" stroke="#ff1050" stroke-width="1.2"/>
<line x1="737.20" y1="299.20" x2="737.20" y2="336.20" stroke="#ff1050" stroke-width="1.1" />
<path d="M734.30 312.50L737.20 309.50L740.10 312.50L737.20 315.50Z" fill="none" stroke="#ff1050" stroke-width="1.2"/>
<line x1="637.40" y1="169.00" x2="637.40" y2="219.30" stroke="#0000ff" stroke-width="1.1" />
<path d="M637.40 179.60V188.80M634.40 181.50L640.40 186.90M634.40 186.90L640.40 181.50" fill="none" stroke="#0000ff" stroke-width="1.05"/>
<line x1="641.70" y1="190.40" x2="641.70" y2="371.50" stroke="#0000ff" stroke-width="1.1" />
<path d="M641.70 204.80V214.00M638.70 206.70L644.70 212.10M638.70 212.10L644.70 206.70" fill="none" stroke="#0000ff" stroke-width="1.05"/>
<line x1="647.00" y1="178.70" x2="647.00" y2="228.60" stroke="#0000ff" stroke-width="1.1" />
<path d="M647.00 188.90V198.10M644.00 190.80L650.00 196.20M644.00 196.20L650.00 190.80" fill="none" stroke="#0000ff" stroke-width="1.05"/>
<line x1="651.00" y1="184.90" x2="651.00" y2="221.80" stroke="#0000ff" stroke-width="1.1" />
<path d="M651.00 192.90V202.10M648.00 194.80L654.00 200.20M648.00 200.20L654.00 194.80" fill="none" stroke="#0000ff" stroke-width="1.05"/>
<line x1="656.60" y1="214.30" x2="656.60" y2="250.80" stroke="#0000ff" stroke-width="1.1" />
<path d="M656.60 222.70V231.90M653.60 224.60L659.60 230.00M653.60 230.00L659.60 224.60" fill="none" stroke="#0000ff" stroke-width="1.05"/>
<line x1="683.30" y1="287.80" x2="683.30" y2="371.50" stroke="#0000ff" stroke-width="1.1" />
<path d="M683.30 303.00V312.20M680.30 304.90L686.30 310.30M680.30 310.30L686.30 304.90" fill="none" stroke="#0000ff" stroke-width="1.05"/>
<line x1="715.80" y1="266.30" x2="715.80" y2="297.20" stroke="#0000ff" stroke-width="1.1" />
<path d="M715.80 273.60V282.80M712.80 275.50L718.80 280.90M712.80 280.90L718.80 275.50" fill="none" stroke="#0000ff" stroke-width="1.05"/>
</g></svg></body></html>
